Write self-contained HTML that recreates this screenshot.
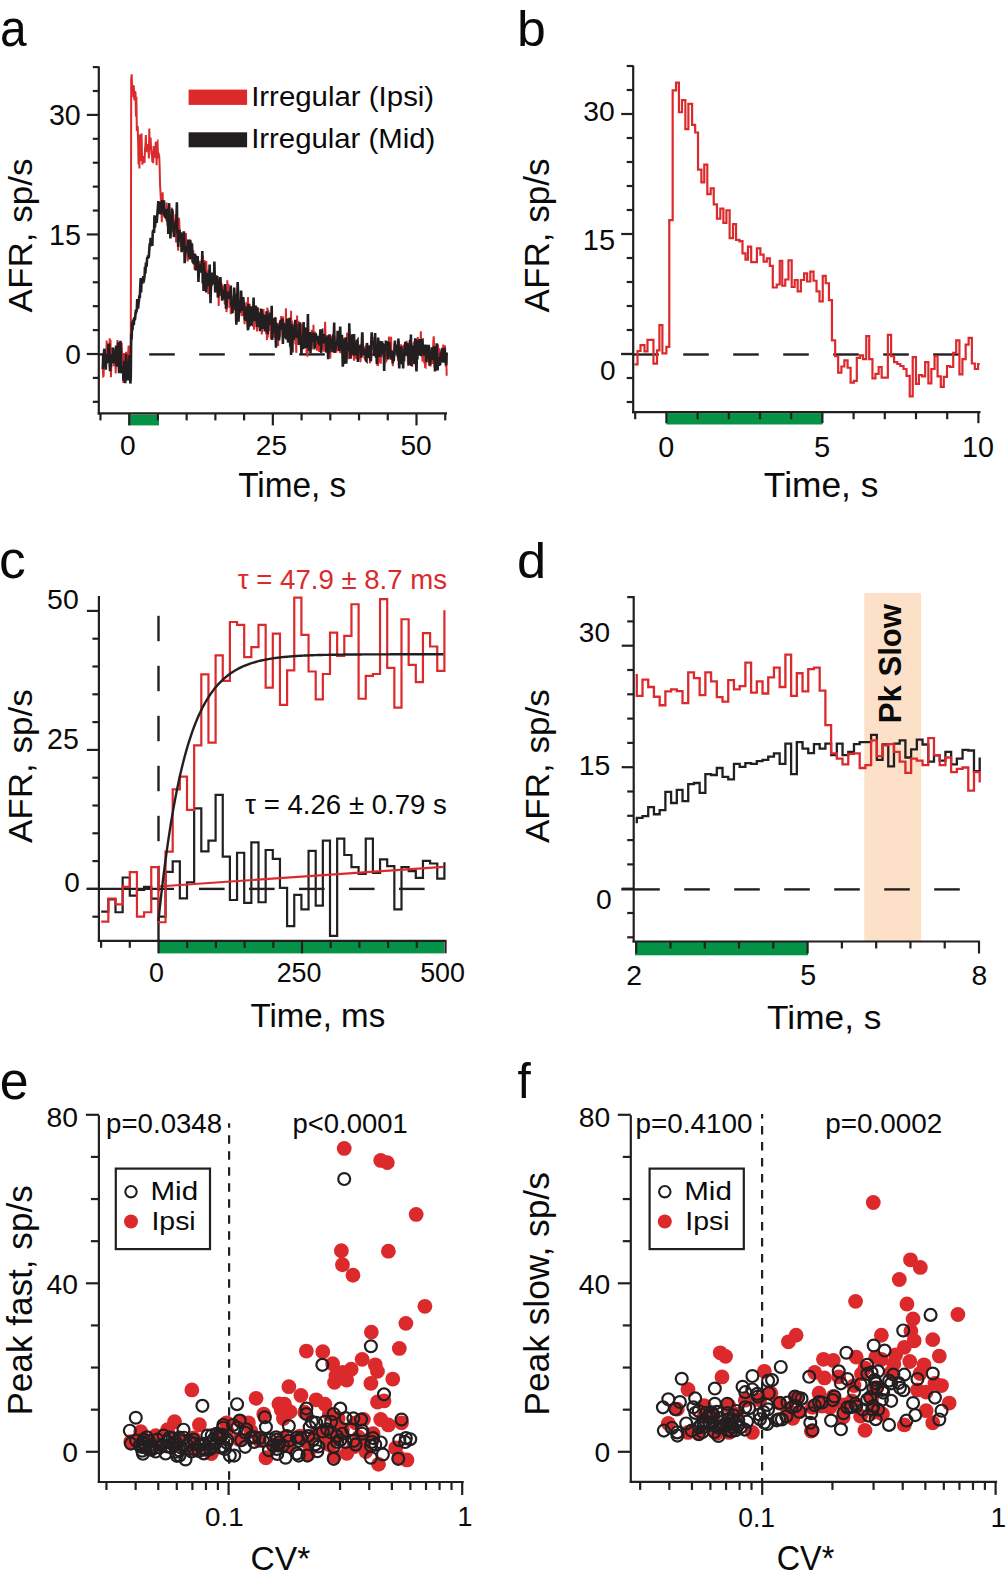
<!DOCTYPE html>
<html><head><meta charset="utf-8"><style>
html,body{margin:0;padding:0;background:#fff;width:1006px;height:1578px;overflow:hidden}
svg{display:block}
text{font-family:"Liberation Sans", sans-serif;}
</style></head><body>
<svg width="1006" height="1578" viewBox="0 0 1006 1578">
<line x1="99.20" y1="354.40" x2="124.80" y2="354.40" stroke="#231f20" stroke-width="2.4" />
<line x1="149.20" y1="354.40" x2="174.80" y2="354.40" stroke="#231f20" stroke-width="2.4" />
<line x1="199.20" y1="354.40" x2="224.80" y2="354.40" stroke="#231f20" stroke-width="2.4" />
<line x1="249.20" y1="354.40" x2="274.80" y2="354.40" stroke="#231f20" stroke-width="2.4" />
<line x1="299.20" y1="354.40" x2="324.80" y2="354.40" stroke="#231f20" stroke-width="2.4" />
<line x1="349.20" y1="354.40" x2="374.80" y2="354.40" stroke="#231f20" stroke-width="2.4" />
<line x1="399.20" y1="354.40" x2="424.80" y2="354.40" stroke="#231f20" stroke-width="2.4" />
<rect x="129.20" y="414.60" width="29.80" height="10.80" fill="#049346" />
<path d="M102.77,367.14 L103.20,376.27 L103.63,375.97 L104.06,356.37 L104.49,362.00 L104.92,360.26 L105.35,356.83 L105.79,360.81 L106.22,357.53 L106.65,340.53 L107.08,362.66 L107.51,362.15 L107.94,360.78 L108.37,357.80 L108.80,352.61 L109.23,359.77 L109.66,338.26 L110.09,360.91 L110.53,339.78 L110.96,377.33 L111.39,362.14 L111.82,354.31 L112.25,355.67 L112.68,347.71 L113.11,357.73 L113.54,352.14 L113.97,366.28 L114.40,349.62 L114.83,360.61 L115.27,358.25 L115.70,373.37 L116.13,356.40 L116.56,350.18 L116.99,357.84 L117.42,339.97 L117.85,345.35 L118.28,366.12 L118.71,351.80 L119.14,360.11 L119.58,349.67 L120.01,373.09 L120.44,353.59 L120.87,354.04 L121.30,369.42 L121.73,342.70 L122.16,359.92 L122.59,353.44 L123.02,355.85 L123.45,383.00 L123.88,355.85 L124.32,358.81 L124.75,354.71 L125.18,366.29 L125.61,355.69 L126.04,351.90 L126.47,356.09 L126.90,361.57 L127.33,377.35 L127.76,368.24 L128.19,352.70 L128.63,345.58 L129.06,349.57 L129.49,358.05 L129.92,359.30 L130.35,357.03 L130.78,357.12 L131.21,79.67 L131.64,74.32 L132.07,85.69 L132.50,85.95 L132.93,85.95 L133.37,97.17 L133.80,85.64 L134.23,98.73 L134.66,100.11 L135.09,91.30 L135.52,93.18 L135.95,116.44 L136.38,96.65 L136.81,128.72 L137.24,128.19 L137.68,125.91 L138.11,141.34 L138.54,164.20 L138.97,138.27 L139.40,168.61 L139.83,134.46 L140.26,161.06 L140.69,153.70 L141.12,151.36 L141.55,133.57 L141.98,154.32 L142.42,164.79 L142.85,156.04 L143.28,162.87 L143.71,158.95 L144.14,162.03 L144.57,162.02 L145.00,148.95 L145.43,144.74 L145.86,135.09 L146.29,152.10 L146.73,148.70 L147.16,148.19 L147.59,144.22 L148.02,147.45 L148.45,147.86 L148.88,158.56 L149.31,128.50 L149.74,149.93 L150.17,139.90 L150.60,137.53 L151.03,148.05 L151.47,152.88 L151.90,152.51 L152.33,162.19 L152.76,159.40 L153.19,163.15 L153.62,145.93 L154.05,157.24 L154.48,156.91 L154.91,155.81 L155.34,150.24 L155.78,141.90 L156.21,153.60 L156.64,165.22 L157.07,142.52 L157.50,141.79 L157.93,151.64 L158.36,155.30 L158.79,154.34 L159.22,155.84 L159.65,167.06 L160.08,185.57 L160.52,192.71 L160.95,202.01 L161.38,206.87 L161.81,222.11 L162.24,208.21 L162.67,192.35 L163.10,214.22 L163.53,204.81 L163.96,207.65 L164.39,214.02 L164.83,217.95 L165.26,214.04 L165.69,217.80 L166.12,213.20 L166.55,202.65 L166.98,211.60 L167.41,225.41 L167.84,213.64 L168.27,210.81 L168.70,223.60 L169.13,216.31 L169.57,213.67 L170.00,230.74 L170.43,218.05 L170.86,215.46 L171.29,226.22 L171.72,207.51 L172.15,216.99 L172.58,232.59 L173.01,210.82 L173.44,228.28 L173.88,225.17 L174.31,227.28 L174.74,219.04 L175.17,231.86 L175.60,214.35 L176.03,242.41 L176.46,229.10 L176.89,236.00 L177.32,235.28 L177.75,238.44 L178.18,250.62 L178.62,239.37 L179.05,217.68 L179.48,227.17 L179.91,234.63 L180.34,239.65 L180.77,233.49 L181.20,238.08 L181.63,246.33 L182.06,243.87 L182.49,238.43 L182.93,247.87 L183.36,245.90 L183.79,239.10 L184.22,234.61 L184.65,245.58 L185.08,249.52 L185.51,235.69 L185.94,232.98 L186.37,248.06 L186.80,240.22 L187.23,254.14 L187.67,261.44 L188.10,243.86 L188.53,248.50 L188.96,254.93 L189.39,258.81 L189.82,239.38 L190.25,250.91 L190.68,252.43 L191.11,258.39 L191.54,251.16 L191.98,257.98 L192.41,260.63 L192.84,262.61 L193.27,250.19 L193.70,263.37 L194.13,255.90 L194.56,270.03 L194.99,268.47 L195.42,268.77 L195.85,267.24 L196.28,270.20 L196.72,261.15 L197.15,260.69 L197.58,269.67 L198.01,264.34 L198.44,261.38 L198.87,271.25 L199.30,264.95 L199.73,262.25 L200.16,261.02 L200.59,270.70 L201.02,261.21 L201.46,262.65 L201.89,259.47 L202.32,265.75 L202.75,255.62 L203.18,282.20 L203.61,267.57 L204.04,263.27 L204.47,260.05 L204.90,277.64 L205.33,271.41 L205.77,270.35 L206.20,261.07 L206.63,269.26 L207.06,273.85 L207.49,288.94 L207.92,270.89 L208.35,294.24 L208.78,284.22 L209.21,277.80 L209.64,272.71 L210.07,277.26 L210.51,286.66 L210.94,280.48 L211.37,278.24 L211.80,286.27 L212.23,282.05 L212.66,278.73 L213.09,280.11 L213.52,273.78 L213.95,280.24 L214.38,278.01 L214.82,274.67 L215.25,278.20 L215.68,280.90 L216.11,278.45 L216.54,290.81 L216.97,290.43 L217.40,285.17 L217.83,285.82 L218.26,278.96 L218.69,305.87 L219.12,279.47 L219.56,293.72 L219.99,284.04 L220.42,281.73 L220.85,296.24 L221.28,287.56 L221.71,286.97 L222.14,286.13 L222.57,288.31 L223.00,294.19 L223.43,285.55 L223.87,289.76 L224.30,289.40 L224.73,303.93 L225.16,301.06 L225.59,304.96 L226.02,288.94 L226.45,312.05 L226.88,308.06 L227.31,280.34 L227.74,292.95 L228.17,294.24 L228.61,284.14 L229.04,294.07 L229.47,308.04 L229.90,297.29 L230.33,292.38 L230.76,314.24 L231.19,302.76 L231.62,295.76 L232.05,298.38 L232.48,307.82 L232.92,303.94 L233.35,301.55 L233.78,309.73 L234.21,306.87 L234.64,296.66 L235.07,306.68 L235.50,298.65 L235.93,322.13 L236.36,307.44 L236.79,305.49 L237.22,311.62 L237.66,296.46 L238.09,302.00 L238.52,302.62 L238.95,301.25 L239.38,299.68 L239.81,308.53 L240.24,312.06 L240.67,301.07 L241.10,308.22 L241.53,316.17 L241.97,304.36 L242.40,315.84 L242.83,306.48 L243.26,300.24 L243.69,311.55 L244.12,315.66 L244.55,324.10 L244.98,319.66 L245.41,308.62 L245.84,310.57 L246.27,302.42 L246.71,308.54 L247.14,303.00 L247.57,308.94 L248.00,297.09 L248.43,328.86 L248.86,323.40 L249.29,315.44 L249.72,303.76 L250.15,321.75 L250.58,309.54 L251.02,309.01 L251.45,320.21 L251.88,320.62 L252.31,316.79 L252.74,317.33 L253.17,326.88 L253.60,319.46 L254.03,329.71 L254.46,326.67 L254.89,305.70 L255.32,319.47 L255.76,317.63 L256.19,315.82 L256.62,313.13 L257.05,331.43 L257.48,323.13 L257.91,314.58 L258.34,327.30 L258.77,325.60 L259.20,321.71 L259.63,311.97 L260.07,330.81 L260.50,308.36 L260.93,324.82 L261.36,314.97 L261.79,334.40 L262.22,328.19 L262.65,315.17 L263.08,324.04 L263.51,309.07 L263.94,321.62 L264.37,319.93 L264.81,325.30 L265.24,316.19 L265.67,328.13 L266.10,334.18 L266.53,318.19 L266.96,340.14 L267.39,307.42 L267.82,337.59 L268.25,309.86 L268.68,330.91 L269.12,319.85 L269.55,320.23 L269.98,314.07 L270.41,315.09 L270.84,339.27 L271.27,336.61 L271.70,333.97 L272.13,339.87 L272.56,322.38 L272.99,322.69 L273.42,318.55 L273.86,337.83 L274.29,321.25 L274.72,327.90 L275.15,318.31 L275.58,317.09 L276.01,325.69 L276.44,327.58 L276.87,340.02 L277.30,322.86 L277.73,326.01 L278.17,345.90 L278.60,322.73 L279.03,327.49 L279.46,338.41 L279.89,320.69 L280.32,336.40 L280.75,325.59 L281.18,316.13 L281.61,325.71 L282.04,323.43 L282.47,330.03 L282.91,316.41 L283.34,325.08 L283.77,330.32 L284.20,337.59 L284.63,329.22 L285.06,327.91 L285.49,330.50 L285.92,308.17 L286.35,327.21 L286.78,327.25 L287.22,334.45 L287.65,331.17 L288.08,322.12 L288.51,326.87 L288.94,338.45 L289.37,333.38 L289.80,329.69 L290.23,323.15 L290.66,348.67 L291.09,310.71 L291.52,350.08 L291.96,320.90 L292.39,322.23 L292.82,333.12 L293.25,329.90 L293.68,331.91 L294.11,337.07 L294.54,325.41 L294.97,329.97 L295.40,344.26 L295.83,332.41 L296.26,352.85 L296.70,336.86 L297.13,315.61 L297.56,335.31 L297.99,326.52 L298.42,320.85 L298.85,324.57 L299.28,326.81 L299.71,337.24 L300.14,333.16 L300.57,341.84 L301.01,328.60 L301.44,346.42 L301.87,325.04 L302.30,325.53 L302.73,340.59 L303.16,334.72 L303.59,335.66 L304.02,331.69 L304.45,346.16 L304.88,333.38 L305.31,334.94 L305.75,335.60 L306.18,328.42 L306.61,353.02 L307.04,329.93 L307.47,356.70 L307.90,345.40 L308.33,332.99 L308.76,339.29 L309.19,333.69 L309.62,339.63 L310.06,341.48 L310.49,343.40 L310.92,332.56 L311.35,338.22 L311.78,329.85 L312.21,337.52 L312.64,335.05 L313.07,340.39 L313.50,324.73 L313.93,345.81 L314.36,349.71 L314.80,331.93 L315.23,333.08 L315.66,346.03 L316.09,342.99 L316.52,337.88 L316.95,350.78 L317.38,340.02 L317.81,349.01 L318.24,342.11 L318.67,342.70 L319.11,351.91 L319.54,344.53 L319.97,342.08 L320.40,335.93 L320.83,339.29 L321.26,338.12 L321.69,349.59 L322.12,336.24 L322.55,344.93 L322.98,347.98 L323.41,341.17 L323.85,351.77 L324.28,347.21 L324.71,337.05 L325.14,321.79 L325.57,338.63 L326.00,339.47 L326.43,336.99 L326.86,346.58 L327.29,335.02 L327.72,350.97 L328.16,350.85 L328.59,337.52 L329.02,342.43 L329.45,349.18 L329.88,350.45 L330.31,358.65 L330.74,339.34 L331.17,335.42 L331.60,347.56 L332.03,352.15 L332.46,344.67 L332.90,351.15 L333.33,336.58 L333.76,352.97 L334.19,336.99 L334.62,336.05 L335.05,350.47 L335.48,340.06 L335.91,342.49 L336.34,352.72 L336.77,346.58 L337.21,339.46 L337.64,349.70 L338.07,350.66 L338.50,339.42 L338.93,342.85 L339.36,347.61 L339.79,338.66 L340.22,353.26 L340.65,344.28 L341.08,349.28 L341.51,346.07 L341.95,346.17 L342.38,342.85 L342.81,352.55 L343.24,343.04 L343.67,347.35 L344.10,337.68 L344.53,349.41 L344.96,355.38 L345.39,343.79 L345.82,349.50 L346.26,339.53 L346.69,350.56 L347.12,332.71 L347.55,336.85 L347.98,357.74 L348.41,342.21 L348.84,359.21 L349.27,329.14 L349.70,342.86 L350.13,341.83 L350.56,358.04 L351.00,335.75 L351.43,340.12 L351.86,339.11 L352.29,342.70 L352.72,337.21 L353.15,337.57 L353.58,354.66 L354.01,360.68 L354.44,339.96 L354.87,350.53 L355.31,343.31 L355.74,348.19 L356.17,359.25 L356.60,348.04 L357.03,350.24 L357.46,357.61 L357.89,340.23 L358.32,354.72 L358.75,357.83 L359.18,359.25 L359.61,352.81 L360.05,348.13 L360.48,362.12 L360.91,350.39 L361.34,350.42 L361.77,344.54 L362.20,351.07 L362.63,332.81 L363.06,355.26 L363.49,353.37 L363.92,347.49 L364.36,357.92 L364.79,358.68 L365.22,345.98 L365.65,356.94 L366.08,356.99 L366.51,344.64 L366.94,346.60 L367.37,353.08 L367.80,348.66 L368.23,353.16 L368.66,346.92 L369.10,358.31 L369.53,349.62 L369.96,363.13 L370.39,360.59 L370.82,358.24 L371.25,358.91 L371.68,347.41 L372.11,350.04 L372.54,346.64 L372.97,345.04 L373.40,346.68 L373.84,349.68 L374.27,337.06 L374.70,346.72 L375.13,355.13 L375.56,355.49 L375.99,344.84 L376.42,349.10 L376.85,346.27 L377.28,365.81 L377.71,363.25 L378.15,363.90 L378.58,358.75 L379.01,360.77 L379.44,359.37 L379.87,348.63 L380.30,344.95 L380.73,363.65 L381.16,341.00 L381.59,357.43 L382.02,344.34 L382.45,347.24 L382.89,349.87 L383.32,343.78 L383.75,350.35 L384.18,357.46 L384.61,357.42 L385.04,352.60 L385.47,350.29 L385.90,347.04 L386.33,360.69 L386.76,359.86 L387.20,356.84 L387.63,352.46 L388.06,347.31 L388.49,356.79 L388.92,336.59 L389.35,346.97 L389.78,339.33 L390.21,353.60 L390.64,360.05 L391.07,336.71 L391.50,358.72 L391.94,355.54 L392.37,352.12 L392.80,366.16 L393.23,353.61 L393.66,352.60 L394.09,350.18 L394.52,342.90 L394.95,346.52 L395.38,345.05 L395.81,348.17 L396.25,354.96 L396.68,347.71 L397.11,353.33 L397.54,347.36 L397.97,360.65 L398.40,342.57 L398.83,341.02 L399.26,347.33 L399.69,350.17 L400.12,345.96 L400.55,361.28 L400.99,344.25 L401.42,361.41 L401.85,348.81 L402.28,358.17 L402.71,350.57 L403.14,346.16 L403.57,345.13 L404.00,359.41 L404.43,344.57 L404.86,355.14 L405.30,343.88 L405.73,354.53 L406.16,347.06 L406.59,340.89 L407.02,350.90 L407.45,346.51 L407.88,362.31 L408.31,365.76 L408.74,364.06 L409.17,344.50 L409.60,342.43 L410.04,341.87 L410.47,342.46 L410.90,360.12 L411.33,342.67 L411.76,353.28 L412.19,366.71 L412.62,351.48 L413.05,345.64 L413.48,356.83 L413.91,341.71 L414.35,348.94 L414.78,351.46 L415.21,350.00 L415.64,358.71 L416.07,353.43 L416.50,353.91 L416.93,360.57 L417.36,343.79 L417.79,336.95 L418.22,350.84 L418.65,343.52 L419.09,351.98 L419.52,354.70 L419.95,344.63 L420.38,352.87 L420.81,331.24 L421.24,347.94 L421.67,352.20 L422.10,354.24 L422.53,361.50 L422.96,360.18 L423.40,348.11 L423.83,351.86 L424.26,363.51 L424.69,353.52 L425.12,367.25 L425.55,367.49 L425.98,359.68 L426.41,346.77 L426.84,351.87 L427.27,344.89 L427.70,351.80 L428.14,346.16 L428.57,356.77 L429.00,366.03 L429.43,358.29 L429.86,349.70 L430.29,366.58 L430.72,361.08 L431.15,353.43 L431.58,357.40 L432.01,354.13 L432.45,348.77 L432.88,363.94 L433.31,341.15 L433.74,336.29 L434.17,346.87 L434.60,367.55 L435.03,353.16 L435.46,363.84 L435.89,352.00 L436.32,352.34 L436.75,346.85 L437.19,346.82 L437.62,356.85 L438.05,344.51 L438.48,362.20 L438.91,348.44 L439.34,352.63 L439.77,358.28 L440.20,351.20 L440.63,351.13 L441.06,355.54 L441.50,354.76 L441.93,353.55 L442.36,347.67 L442.79,356.70 L443.22,344.54 L443.65,356.13 L444.08,348.19 L444.51,360.49 L444.94,345.41 L445.37,354.54 L445.80,366.60 L446.24,353.54 L446.67,375.81" fill="none" stroke="#dc2a2c" stroke-width="2.0" stroke-linejoin="miter" />
<path d="M102.77,368.97 L103.20,354.24 L103.63,360.72 L104.06,350.80 L104.49,348.77 L104.92,356.41 L105.35,365.46 L105.79,369.60 L106.22,354.03 L106.65,362.85 L107.08,359.12 L107.51,358.31 L107.94,362.65 L108.37,343.44 L108.80,358.18 L109.23,343.50 L109.66,364.55 L110.09,371.21 L110.53,354.26 L110.96,367.15 L111.39,354.31 L111.82,362.67 L112.25,357.80 L112.68,363.02 L113.11,347.58 L113.54,363.18 L113.97,355.77 L114.40,363.25 L114.83,360.35 L115.27,357.89 L115.70,359.60 L116.13,345.64 L116.56,366.57 L116.99,357.12 L117.42,351.23 L117.85,355.17 L118.28,342.39 L118.71,363.75 L119.14,373.19 L119.58,349.27 L120.01,354.96 L120.44,340.84 L120.87,353.47 L121.30,373.26 L121.73,369.28 L122.16,366.20 L122.59,372.77 L123.02,366.75 L123.45,380.79 L123.88,369.41 L124.32,360.93 L124.75,375.61 L125.18,383.13 L125.61,378.76 L126.04,354.07 L126.47,361.64 L126.90,368.51 L127.33,372.98 L127.76,380.32 L128.19,364.07 L128.63,361.64 L129.06,373.17 L129.49,355.15 L129.92,362.07 L130.35,383.59 L130.78,377.29 L131.21,334.01 L131.64,339.39 L132.07,322.10 L132.50,330.10 L132.93,321.20 L133.37,320.44 L133.80,325.20 L134.23,317.24 L134.66,320.14 L135.09,318.86 L135.52,313.40 L135.95,309.64 L136.38,311.40 L136.81,309.97 L137.24,299.11 L137.68,302.68 L138.11,308.56 L138.54,303.45 L138.97,300.43 L139.40,295.47 L139.83,297.84 L140.26,286.35 L140.69,278.12 L141.12,292.36 L141.55,280.87 L141.98,278.50 L142.42,283.67 L142.85,279.53 L143.28,276.15 L143.71,277.61 L144.14,278.73 L144.57,275.95 L145.00,266.88 L145.43,273.39 L145.86,264.23 L146.29,264.43 L146.73,264.70 L147.16,257.44 L147.59,258.84 L148.02,255.33 L148.45,257.98 L148.88,256.30 L149.31,249.16 L149.74,243.46 L150.17,246.77 L150.60,237.81 L151.03,242.90 L151.47,241.59 L151.90,241.98 L152.33,245.85 L152.76,232.34 L153.19,229.86 L153.62,231.99 L154.05,233.03 L154.48,215.34 L154.91,227.63 L155.34,222.37 L155.78,216.15 L156.21,220.41 L156.64,223.00 L157.07,218.01 L157.50,212.20 L157.93,206.57 L158.36,201.12 L158.79,213.34 L159.22,204.98 L159.65,214.16 L160.08,205.00 L160.52,211.77 L160.95,201.74 L161.38,214.55 L161.81,206.29 L162.24,200.13 L162.67,211.45 L163.10,207.87 L163.53,209.41 L163.96,200.21 L164.39,215.45 L164.83,215.95 L165.26,210.02 L165.69,210.27 L166.12,219.02 L166.55,215.47 L166.98,221.09 L167.41,214.58 L167.84,208.87 L168.27,233.87 L168.70,208.78 L169.13,203.17 L169.57,228.32 L170.00,222.39 L170.43,238.46 L170.86,227.24 L171.29,218.48 L171.72,227.13 L172.15,208.84 L172.58,227.25 L173.01,228.32 L173.44,221.88 L173.88,237.07 L174.31,234.89 L174.74,221.84 L175.17,227.75 L175.60,227.78 L176.03,227.28 L176.46,218.02 L176.89,202.34 L177.32,233.56 L177.75,230.29 L178.18,246.83 L178.62,236.04 L179.05,240.67 L179.48,229.69 L179.91,241.44 L180.34,239.70 L180.77,232.27 L181.20,236.75 L181.63,252.32 L182.06,237.51 L182.49,248.07 L182.93,250.00 L183.36,235.34 L183.79,231.38 L184.22,237.34 L184.65,263.27 L185.08,256.55 L185.51,247.13 L185.94,247.29 L186.37,252.04 L186.80,247.46 L187.23,249.34 L187.67,252.34 L188.10,239.52 L188.53,247.22 L188.96,256.62 L189.39,245.27 L189.82,259.39 L190.25,240.17 L190.68,249.50 L191.11,242.55 L191.54,254.55 L191.98,243.67 L192.41,254.51 L192.84,262.63 L193.27,256.98 L193.70,264.14 L194.13,262.30 L194.56,253.58 L194.99,257.07 L195.42,254.63 L195.85,270.36 L196.28,262.33 L196.72,260.61 L197.15,262.26 L197.58,256.17 L198.01,264.08 L198.44,281.92 L198.87,271.69 L199.30,269.52 L199.73,263.54 L200.16,272.70 L200.59,263.90 L201.02,268.13 L201.46,264.86 L201.89,268.14 L202.32,250.92 L202.75,283.51 L203.18,275.40 L203.61,291.00 L204.04,262.48 L204.47,275.38 L204.90,273.34 L205.33,272.63 L205.77,273.29 L206.20,292.55 L206.63,279.47 L207.06,281.90 L207.49,277.18 L207.92,272.98 L208.35,286.02 L208.78,282.58 L209.21,276.73 L209.64,264.64 L210.07,280.76 L210.51,303.22 L210.94,287.27 L211.37,277.36 L211.80,272.67 L212.23,278.40 L212.66,281.31 L213.09,284.23 L213.52,282.63 L213.95,283.72 L214.38,261.52 L214.82,279.40 L215.25,292.55 L215.68,278.30 L216.11,276.87 L216.54,275.50 L216.97,282.27 L217.40,275.95 L217.83,297.59 L218.26,295.54 L218.69,290.41 L219.12,291.25 L219.56,285.68 L219.99,283.44 L220.42,276.99 L220.85,286.61 L221.28,287.71 L221.71,290.37 L222.14,300.78 L222.57,291.20 L223.00,292.49 L223.43,289.96 L223.87,295.15 L224.30,299.25 L224.73,293.11 L225.16,283.96 L225.59,293.37 L226.02,308.83 L226.45,306.45 L226.88,296.97 L227.31,297.25 L227.74,299.19 L228.17,291.63 L228.61,297.66 L229.04,297.70 L229.47,296.47 L229.90,295.10 L230.33,292.74 L230.76,285.47 L231.19,303.46 L231.62,306.35 L232.05,300.18 L232.48,313.41 L232.92,300.78 L233.35,305.62 L233.78,303.22 L234.21,287.47 L234.64,296.22 L235.07,293.93 L235.50,310.55 L235.93,300.46 L236.36,324.61 L236.79,306.49 L237.22,300.17 L237.66,282.04 L238.09,293.50 L238.52,321.75 L238.95,309.44 L239.38,306.15 L239.81,312.79 L240.24,305.79 L240.67,309.92 L241.10,290.53 L241.53,299.95 L241.97,310.85 L242.40,302.61 L242.83,302.72 L243.26,297.15 L243.69,303.76 L244.12,306.42 L244.55,315.70 L244.98,319.91 L245.41,310.31 L245.84,320.84 L246.27,306.72 L246.71,311.13 L247.14,313.73 L247.57,323.79 L248.00,330.34 L248.43,303.85 L248.86,316.12 L249.29,326.60 L249.72,319.59 L250.15,316.92 L250.58,313.55 L251.02,306.40 L251.45,325.73 L251.88,315.22 L252.31,307.85 L252.74,314.85 L253.17,314.16 L253.60,297.49 L254.03,321.04 L254.46,316.02 L254.89,312.87 L255.32,310.80 L255.76,305.61 L256.19,316.72 L256.62,320.51 L257.05,326.98 L257.48,307.21 L257.91,320.25 L258.34,321.44 L258.77,319.45 L259.20,313.55 L259.63,320.43 L260.07,331.26 L260.50,312.78 L260.93,318.27 L261.36,309.14 L261.79,311.05 L262.22,320.78 L262.65,328.97 L263.08,314.17 L263.51,322.46 L263.94,315.22 L264.37,316.65 L264.81,331.45 L265.24,318.97 L265.67,331.38 L266.10,326.56 L266.53,312.89 L266.96,311.38 L267.39,329.05 L267.82,334.17 L268.25,320.98 L268.68,317.75 L269.12,318.67 L269.55,321.26 L269.98,316.83 L270.41,312.57 L270.84,325.26 L271.27,319.75 L271.70,305.69 L272.13,339.85 L272.56,321.63 L272.99,319.70 L273.42,331.66 L273.86,331.16 L274.29,318.17 L274.72,333.53 L275.15,317.57 L275.58,335.05 L276.01,347.74 L276.44,323.43 L276.87,325.85 L277.30,328.04 L277.73,334.80 L278.17,328.72 L278.60,332.53 L279.03,340.52 L279.46,325.12 L279.89,330.12 L280.32,322.29 L280.75,320.00 L281.18,327.55 L281.61,322.71 L282.04,320.99 L282.47,318.62 L282.91,343.93 L283.34,322.79 L283.77,329.22 L284.20,328.92 L284.63,323.55 L285.06,337.98 L285.49,332.96 L285.92,325.94 L286.35,339.39 L286.78,324.89 L287.22,318.62 L287.65,333.79 L288.08,342.54 L288.51,341.65 L288.94,321.66 L289.37,333.16 L289.80,317.65 L290.23,346.56 L290.66,323.63 L291.09,354.86 L291.52,331.76 L291.96,323.90 L292.39,352.51 L292.82,327.06 L293.25,338.91 L293.68,339.96 L294.11,335.50 L294.54,329.00 L294.97,326.31 L295.40,319.87 L295.83,333.40 L296.26,324.02 L296.70,337.91 L297.13,332.78 L297.56,332.56 L297.99,331.12 L298.42,336.25 L298.85,345.01 L299.28,329.22 L299.71,322.34 L300.14,331.91 L300.57,340.50 L301.01,342.08 L301.44,354.69 L301.87,335.25 L302.30,336.87 L302.73,336.66 L303.16,349.27 L303.59,322.04 L304.02,345.18 L304.45,348.07 L304.88,327.53 L305.31,328.89 L305.75,338.02 L306.18,339.86 L306.61,348.00 L307.04,344.47 L307.47,342.05 L307.90,313.99 L308.33,339.39 L308.76,334.84 L309.19,350.98 L309.62,346.30 L310.06,331.98 L310.49,353.29 L310.92,333.46 L311.35,349.41 L311.78,336.29 L312.21,335.50 L312.64,341.50 L313.07,332.66 L313.50,341.54 L313.93,339.65 L314.36,333.81 L314.80,348.53 L315.23,339.45 L315.66,333.32 L316.09,335.67 L316.52,338.18 L316.95,340.75 L317.38,337.68 L317.81,335.89 L318.24,338.73 L318.67,344.03 L319.11,342.67 L319.54,345.21 L319.97,336.95 L320.40,329.21 L320.83,338.41 L321.26,352.84 L321.69,330.80 L322.12,330.42 L322.55,339.05 L322.98,341.32 L323.41,341.74 L323.85,341.18 L324.28,334.15 L324.71,338.62 L325.14,343.69 L325.57,341.09 L326.00,344.23 L326.43,352.68 L326.86,345.40 L327.29,336.21 L327.72,346.06 L328.16,359.18 L328.59,338.69 L329.02,353.20 L329.45,334.30 L329.88,347.58 L330.31,339.70 L330.74,344.27 L331.17,343.74 L331.60,338.32 L332.03,351.69 L332.46,339.54 L332.90,342.69 L333.33,334.27 L333.76,337.62 L334.19,322.58 L334.62,352.85 L335.05,345.11 L335.48,350.41 L335.91,341.70 L336.34,346.08 L336.77,342.33 L337.21,346.14 L337.64,330.68 L338.07,336.72 L338.50,337.82 L338.93,344.50 L339.36,351.22 L339.79,337.14 L340.22,326.56 L340.65,348.91 L341.08,344.69 L341.51,348.66 L341.95,334.89 L342.38,351.57 L342.81,366.82 L343.24,350.71 L343.67,364.28 L344.10,354.44 L344.53,339.30 L344.96,342.02 L345.39,344.14 L345.82,337.30 L346.26,363.58 L346.69,354.95 L347.12,349.15 L347.55,346.65 L347.98,345.74 L348.41,342.67 L348.84,351.07 L349.27,323.39 L349.70,343.23 L350.13,339.00 L350.56,358.82 L351.00,340.10 L351.43,338.19 L351.86,347.05 L352.29,334.38 L352.72,336.86 L353.15,352.95 L353.58,353.44 L354.01,334.11 L354.44,348.86 L354.87,344.22 L355.31,355.07 L355.74,343.20 L356.17,355.51 L356.60,347.72 L357.03,340.93 L357.46,340.36 L357.89,361.87 L358.32,351.34 L358.75,349.10 L359.18,350.79 L359.61,346.68 L360.05,348.56 L360.48,344.56 L360.91,346.97 L361.34,357.64 L361.77,344.26 L362.20,332.27 L362.63,347.33 L363.06,353.36 L363.49,352.32 L363.92,348.84 L364.36,354.83 L364.79,349.19 L365.22,355.40 L365.65,349.63 L366.08,360.51 L366.51,360.97 L366.94,343.03 L367.37,346.55 L367.80,347.82 L368.23,348.81 L368.66,357.94 L369.10,346.21 L369.53,351.22 L369.96,345.41 L370.39,360.80 L370.82,359.53 L371.25,342.69 L371.68,332.37 L372.11,344.07 L372.54,342.74 L372.97,343.27 L373.40,344.82 L373.84,341.01 L374.27,354.09 L374.70,353.82 L375.13,333.02 L375.56,352.24 L375.99,357.61 L376.42,351.78 L376.85,363.95 L377.28,356.02 L377.71,356.10 L378.15,337.49 L378.58,348.07 L379.01,357.02 L379.44,340.68 L379.87,355.62 L380.30,353.54 L380.73,356.56 L381.16,346.98 L381.59,346.41 L382.02,341.29 L382.45,353.81 L382.89,351.06 L383.32,345.64 L383.75,350.19 L384.18,370.98 L384.61,347.25 L385.04,348.00 L385.47,350.51 L385.90,340.52 L386.33,350.75 L386.76,348.19 L387.20,341.25 L387.63,356.27 L388.06,359.40 L388.49,348.70 L388.92,355.67 L389.35,342.07 L389.78,349.13 L390.21,354.61 L390.64,352.62 L391.07,358.68 L391.50,350.34 L391.94,353.56 L392.37,355.16 L392.80,363.55 L393.23,353.37 L393.66,361.22 L394.09,356.35 L394.52,353.51 L394.95,340.63 L395.38,351.69 L395.81,346.03 L396.25,345.73 L396.68,345.73 L397.11,348.73 L397.54,355.29 L397.97,356.05 L398.40,338.63 L398.83,358.26 L399.26,368.51 L399.69,346.70 L400.12,353.81 L400.55,348.07 L400.99,358.11 L401.42,346.30 L401.85,364.16 L402.28,358.92 L402.71,356.53 L403.14,368.54 L403.57,355.37 L404.00,361.56 L404.43,348.57 L404.86,352.96 L405.30,341.86 L405.73,350.19 L406.16,342.57 L406.59,355.47 L407.02,343.84 L407.45,348.94 L407.88,356.40 L408.31,343.24 L408.74,364.86 L409.17,348.84 L409.60,358.01 L410.04,339.75 L410.47,363.17 L410.90,334.54 L411.33,365.90 L411.76,348.78 L412.19,353.44 L412.62,359.77 L413.05,349.29 L413.48,345.59 L413.91,353.73 L414.35,364.02 L414.78,359.99 L415.21,338.35 L415.64,356.83 L416.07,364.51 L416.50,371.49 L416.93,352.25 L417.36,359.65 L417.79,343.37 L418.22,344.16 L418.65,355.13 L419.09,347.94 L419.52,338.98 L419.95,352.04 L420.38,349.56 L420.81,345.14 L421.24,356.18 L421.67,350.11 L422.10,340.11 L422.53,339.91 L422.96,352.58 L423.40,350.68 L423.83,349.17 L424.26,355.79 L424.69,346.87 L425.12,344.45 L425.55,355.78 L425.98,344.98 L426.41,362.20 L426.84,354.57 L427.27,354.71 L427.70,351.65 L428.14,354.04 L428.57,344.88 L429.00,347.04 L429.43,360.41 L429.86,359.97 L430.29,365.21 L430.72,352.54 L431.15,353.67 L431.58,359.54 L432.01,347.28 L432.45,353.63 L432.88,360.10 L433.31,357.12 L433.74,349.36 L434.17,346.26 L434.60,358.30 L435.03,371.42 L435.46,363.37 L435.89,349.83 L436.32,364.85 L436.75,343.22 L437.19,360.04 L437.62,370.48 L438.05,358.11 L438.48,364.31 L438.91,357.28 L439.34,365.87 L439.77,357.50 L440.20,364.88 L440.63,353.46 L441.06,353.25 L441.50,361.81 L441.93,348.33 L442.36,350.39 L442.79,352.00 L443.22,362.58 L443.65,356.13 L444.08,354.03 L444.51,347.81 L444.94,355.42 L445.37,359.73 L445.80,361.66 L446.24,365.31 L446.67,352.34" fill="none" stroke="#231f20" stroke-width="2.6" stroke-linejoin="miter" />
<line x1="98.80" y1="66.60" x2="98.80" y2="414.50" stroke="#231f20" stroke-width="2.2" />
<line x1="97.70" y1="413.40" x2="447.00" y2="413.40" stroke="#231f20" stroke-width="2.2" />
<line x1="92.80" y1="401.82" x2="98.80" y2="401.82" stroke="#231f20" stroke-width="2.2" />
<line x1="92.80" y1="377.91" x2="98.80" y2="377.91" stroke="#231f20" stroke-width="2.2" />
<line x1="86.80" y1="354.00" x2="98.80" y2="354.00" stroke="#231f20" stroke-width="2.2" />
<line x1="92.80" y1="330.09" x2="98.80" y2="330.09" stroke="#231f20" stroke-width="2.2" />
<line x1="92.80" y1="306.18" x2="98.80" y2="306.18" stroke="#231f20" stroke-width="2.2" />
<line x1="92.80" y1="282.27" x2="98.80" y2="282.27" stroke="#231f20" stroke-width="2.2" />
<line x1="92.80" y1="258.36" x2="98.80" y2="258.36" stroke="#231f20" stroke-width="2.2" />
<line x1="86.80" y1="234.45" x2="98.80" y2="234.45" stroke="#231f20" stroke-width="2.2" />
<line x1="92.80" y1="210.54" x2="98.80" y2="210.54" stroke="#231f20" stroke-width="2.2" />
<line x1="92.80" y1="186.63" x2="98.80" y2="186.63" stroke="#231f20" stroke-width="2.2" />
<line x1="92.80" y1="162.72" x2="98.80" y2="162.72" stroke="#231f20" stroke-width="2.2" />
<line x1="92.80" y1="138.81" x2="98.80" y2="138.81" stroke="#231f20" stroke-width="2.2" />
<line x1="86.80" y1="114.90" x2="98.80" y2="114.90" stroke="#231f20" stroke-width="2.2" />
<line x1="92.80" y1="90.99" x2="98.80" y2="90.99" stroke="#231f20" stroke-width="2.2" />
<line x1="92.80" y1="67.08" x2="98.80" y2="67.08" stroke="#231f20" stroke-width="2.2" />
<line x1="100.47" y1="413.40" x2="100.47" y2="420.40" stroke="#231f20" stroke-width="2.2" />
<line x1="129.20" y1="413.40" x2="129.20" y2="425.40" stroke="#231f20" stroke-width="2.2" />
<line x1="157.93" y1="413.40" x2="157.93" y2="420.40" stroke="#231f20" stroke-width="2.2" />
<line x1="186.66" y1="413.40" x2="186.66" y2="420.40" stroke="#231f20" stroke-width="2.2" />
<line x1="215.39" y1="413.40" x2="215.39" y2="420.40" stroke="#231f20" stroke-width="2.2" />
<line x1="244.12" y1="413.40" x2="244.12" y2="420.40" stroke="#231f20" stroke-width="2.2" />
<line x1="272.85" y1="413.40" x2="272.85" y2="425.40" stroke="#231f20" stroke-width="2.2" />
<line x1="301.58" y1="413.40" x2="301.58" y2="420.40" stroke="#231f20" stroke-width="2.2" />
<line x1="330.31" y1="413.40" x2="330.31" y2="420.40" stroke="#231f20" stroke-width="2.2" />
<line x1="359.04" y1="413.40" x2="359.04" y2="420.40" stroke="#231f20" stroke-width="2.2" />
<line x1="387.77" y1="413.40" x2="387.77" y2="420.40" stroke="#231f20" stroke-width="2.2" />
<line x1="416.50" y1="413.40" x2="416.50" y2="425.40" stroke="#231f20" stroke-width="2.2" />
<line x1="445.23" y1="413.40" x2="445.23" y2="420.40" stroke="#231f20" stroke-width="2.2" />
<text x="48.94" y="124.80" font-size="28.57" font-weight="normal" fill="#0a0a0a" textLength="31.78" lengthAdjust="spacingAndGlyphs">30</text>
<text x="49.10" y="244.80" font-size="28.70" font-weight="normal" fill="#0a0a0a" textLength="31.92" lengthAdjust="spacingAndGlyphs">15</text>
<text x="65.17" y="364.00" font-size="28.14" font-weight="normal" fill="#0a0a0a" textLength="15.65" lengthAdjust="spacingAndGlyphs">0</text>
<text x="120.12" y="455.30" font-size="28.14" font-weight="normal" fill="#0a0a0a" textLength="15.65" lengthAdjust="spacingAndGlyphs">0</text>
<text x="255.74" y="455.30" font-size="28.14" font-weight="normal" fill="#0a0a0a" textLength="31.30" lengthAdjust="spacingAndGlyphs">25</text>
<text x="400.44" y="455.30" font-size="28.14" font-weight="normal" fill="#0a0a0a" textLength="31.30" lengthAdjust="spacingAndGlyphs">50</text>
<text x="238.13" y="497.10" font-size="34.79" font-weight="normal" fill="#0a0a0a" textLength="108.09" lengthAdjust="spacingAndGlyphs">Time, s</text>
<text transform="translate(31.70,312.40) rotate(-90)" x="-0.00" y="0" font-size="33.84" font-weight="normal" fill="#0a0a0a" textLength="153.84" lengthAdjust="spacingAndGlyphs">AFR, sp/s</text>
<text x="-0.12" y="45.60" font-size="51.30" font-weight="normal" fill="#0a0a0a" textLength="26.64" lengthAdjust="spacingAndGlyphs">a</text>
<rect x="188.60" y="89.60" width="58.50" height="15.30" fill="#dc2a2c" />
<rect x="188.60" y="132.30" width="58.50" height="15.00" fill="#231f20" />
<text x="251.15" y="106.20" font-size="27.53" font-weight="normal" fill="#0a0a0a" textLength="183.02" lengthAdjust="spacingAndGlyphs">Irregular (Ipsi)</text>
<text x="251.16" y="148.40" font-size="27.26" font-weight="normal" fill="#0a0a0a" textLength="184.17" lengthAdjust="spacingAndGlyphs">Irregular (Mid)</text>
<line x1="633.20" y1="354.50" x2="658.80" y2="354.50" stroke="#231f20" stroke-width="2.4" />
<line x1="683.20" y1="354.50" x2="708.80" y2="354.50" stroke="#231f20" stroke-width="2.4" />
<line x1="733.20" y1="354.50" x2="758.80" y2="354.50" stroke="#231f20" stroke-width="2.4" />
<line x1="783.20" y1="354.50" x2="808.80" y2="354.50" stroke="#231f20" stroke-width="2.4" />
<line x1="833.20" y1="354.50" x2="858.80" y2="354.50" stroke="#231f20" stroke-width="2.4" />
<line x1="883.20" y1="354.50" x2="908.80" y2="354.50" stroke="#231f20" stroke-width="2.4" />
<line x1="933.20" y1="354.50" x2="958.80" y2="354.50" stroke="#231f20" stroke-width="2.4" />
<line x1="621.20" y1="354.00" x2="633.20" y2="354.00" stroke="#231f20" stroke-width="2.2" />
<rect x="666.40" y="413.20" width="156.00" height="11.30" fill="#049346" />
<path d="M634.55,364.31 L637.53,364.31 L637.53,350.99 L640.52,350.99 L640.52,345.03 L644.49,345.03 L644.49,351.39 L647.48,351.39 L647.48,339.86 L653.44,339.86 L653.44,363.72 L657.02,363.72 L657.02,350.40 L659.40,350.40 L659.40,325.15 L662.39,325.15 L662.39,353.38 L666.36,353.38 L666.36,346.82 L669.29,346.82 L669.29,220.05 L672.67,220.05 L672.67,90.28 L676.05,90.28 L676.05,82.67 L678.93,82.67 L678.93,112.24 L681.97,112.24 L681.97,100.08 L685.35,100.08 L685.35,129.14 L688.39,129.14 L688.39,103.80 L692.11,103.80 L692.11,124.92 L695.15,124.92 L695.15,132.52 L698.02,132.52 L698.02,169.70 L701.40,169.70 L701.40,182.37 L704.27,182.37 L704.27,164.63 L707.31,164.63 L707.31,194.20 L710.69,194.20 L710.69,188.28 L713.73,188.28 L713.73,204.34 L716.94,204.34 L716.94,218.70 L720.32,218.70 L720.32,208.56 L723.37,208.56 L723.37,222.92 L726.41,222.92 L726.41,210.25 L729.62,210.25 L729.62,238.13 L733.00,238.13 L733.00,224.11 L736.04,224.11 L736.04,239.82 L739.42,239.82 L739.42,241.51 L740.00,241.51 L740.00,241.00 L742.49,241.00 L742.49,253.43 L745.47,253.43 L745.47,259.64 L747.95,259.64 L747.95,246.72 L751.18,246.72 L751.18,262.13 L756.90,262.13 L756.90,248.46 L760.38,248.46 L760.38,254.67 L763.61,254.67 L763.61,261.63 L766.84,261.63 L766.84,258.40 L769.82,258.40 L769.82,265.85 L772.80,265.85 L772.80,287.48 L776.78,287.48 L776.78,284.49 L779.76,284.49 L779.76,260.88 L782.25,260.88 L782.25,285.74 L785.23,285.74 L785.23,279.52 L788.46,279.52 L788.46,260.39 L791.69,260.39 L791.69,286.98 L794.67,286.98 L794.67,280.02 L797.65,280.02 L797.65,291.45 L800.88,291.45 L800.88,280.02 L804.12,280.02 L804.12,273.31 L807.10,273.31 L807.10,281.51 L810.33,281.51 L810.33,271.57 L813.56,271.57 L813.56,280.77 L816.54,280.77 L816.54,291.45 L819.52,291.45 L819.52,301.39 L822.75,301.39 L822.75,275.80 L825.74,275.80 L825.74,283.25 L828.97,283.25 L828.97,300.15 L831.95,300.15 L831.95,340.41 L835.18,340.41 L835.18,356.06 L838.16,356.06 L838.16,372.71 L841.39,372.71 L841.39,366.50 L844.37,366.50 L844.37,360.29 L847.60,360.29 L847.60,367.74 L850.59,367.74 L850.59,382.65 L853.82,382.65 L853.82,380.91 L856.80,380.91 L856.80,357.80 L860.03,357.80 L860.03,355.32 L863.01,355.32 L863.01,359.05 L866.24,359.05 L866.24,336.18 L869.22,336.18 L869.22,359.05 L872.46,359.05 L872.46,378.43 L875.44,378.43 L875.44,373.96 L878.67,373.96 L878.67,367.00 L881.65,367.00 L881.65,377.68 L887.86,377.68 L887.86,334.94 L891.09,334.94 L891.09,356.06 L894.08,356.06 L894.08,362.03 L897.31,362.03 L897.31,364.02 L900.29,364.02 L900.29,366.00 L903.52,366.00 L903.52,368.99 L906.50,368.99 L906.50,375.94 L909.73,375.94 L909.73,396.32 L912.71,396.32 L912.71,357.06 L915.94,357.06 L915.94,383.90 L918.93,383.90 L918.93,375.20 L922.16,375.20 L922.16,376.44 L925.14,376.44 L925.14,362.03 L928.37,362.03 L928.37,383.40 L931.35,383.40 L931.35,368.99 L934.58,368.99 L934.58,356.06 L937.56,356.06 L937.56,376.44 L940.80,376.44 L940.80,386.88 L943.78,386.88 L943.78,376.94 L947.01,376.94 L947.01,366.00 L949.99,366.00 L949.99,367.00 L953.22,367.00 L953.22,352.83 L956.20,352.83 L956.20,340.41 L959.43,340.41 L959.43,374.45 L962.42,374.45 L962.42,359.05 L965.65,359.05 L965.65,344.63 L968.63,344.63 L968.63,337.92 L971.86,337.92 L971.86,363.52 L974.84,363.52 L974.84,368.99 L978.07,368.99 L978.07,364.02 L979.81,364.02" fill="none" stroke="#dc2a2c" stroke-width="2.2" stroke-linejoin="miter" />
<line x1="633.20" y1="65.50" x2="633.20" y2="413.30" stroke="#231f20" stroke-width="2.2" />
<line x1="632.10" y1="412.20" x2="980.50" y2="412.20" stroke="#231f20" stroke-width="2.2" />
<line x1="626.70" y1="402.00" x2="633.20" y2="402.00" stroke="#231f20" stroke-width="2.2" />
<line x1="626.70" y1="378.00" x2="633.20" y2="378.00" stroke="#231f20" stroke-width="2.2" />
<line x1="621.20" y1="354.00" x2="633.20" y2="354.00" stroke="#231f20" stroke-width="2.2" />
<line x1="626.70" y1="330.00" x2="633.20" y2="330.00" stroke="#231f20" stroke-width="2.2" />
<line x1="626.70" y1="306.00" x2="633.20" y2="306.00" stroke="#231f20" stroke-width="2.2" />
<line x1="626.70" y1="282.00" x2="633.20" y2="282.00" stroke="#231f20" stroke-width="2.2" />
<line x1="626.70" y1="258.00" x2="633.20" y2="258.00" stroke="#231f20" stroke-width="2.2" />
<line x1="621.20" y1="234.00" x2="633.20" y2="234.00" stroke="#231f20" stroke-width="2.2" />
<line x1="626.70" y1="210.00" x2="633.20" y2="210.00" stroke="#231f20" stroke-width="2.2" />
<line x1="626.70" y1="186.00" x2="633.20" y2="186.00" stroke="#231f20" stroke-width="2.2" />
<line x1="626.70" y1="162.00" x2="633.20" y2="162.00" stroke="#231f20" stroke-width="2.2" />
<line x1="626.70" y1="138.00" x2="633.20" y2="138.00" stroke="#231f20" stroke-width="2.2" />
<line x1="621.20" y1="114.00" x2="633.20" y2="114.00" stroke="#231f20" stroke-width="2.2" />
<line x1="626.70" y1="90.00" x2="633.20" y2="90.00" stroke="#231f20" stroke-width="2.2" />
<line x1="626.70" y1="66.00" x2="633.20" y2="66.00" stroke="#231f20" stroke-width="2.2" />
<line x1="635.20" y1="412.20" x2="635.20" y2="419.20" stroke="#231f20" stroke-width="2.2" />
<line x1="666.40" y1="412.20" x2="666.40" y2="423.20" stroke="#231f20" stroke-width="2.2" />
<line x1="697.60" y1="412.20" x2="697.60" y2="419.20" stroke="#231f20" stroke-width="2.2" />
<line x1="728.80" y1="412.20" x2="728.80" y2="419.20" stroke="#231f20" stroke-width="2.2" />
<line x1="760.00" y1="412.20" x2="760.00" y2="419.20" stroke="#231f20" stroke-width="2.2" />
<line x1="791.20" y1="412.20" x2="791.20" y2="419.20" stroke="#231f20" stroke-width="2.2" />
<line x1="822.40" y1="412.20" x2="822.40" y2="423.20" stroke="#231f20" stroke-width="2.2" />
<line x1="853.60" y1="412.20" x2="853.60" y2="419.20" stroke="#231f20" stroke-width="2.2" />
<line x1="884.80" y1="412.20" x2="884.80" y2="419.20" stroke="#231f20" stroke-width="2.2" />
<line x1="916.00" y1="412.20" x2="916.00" y2="419.20" stroke="#231f20" stroke-width="2.2" />
<line x1="947.20" y1="412.20" x2="947.20" y2="419.20" stroke="#231f20" stroke-width="2.2" />
<line x1="978.40" y1="412.20" x2="978.40" y2="423.20" stroke="#231f20" stroke-width="2.2" />
<text x="583.25" y="120.80" font-size="28.29" font-weight="normal" fill="#0a0a0a" textLength="31.46" lengthAdjust="spacingAndGlyphs">30</text>
<text x="582.79" y="250.20" font-size="28.99" font-weight="normal" fill="#0a0a0a" textLength="32.24" lengthAdjust="spacingAndGlyphs">15</text>
<text x="599.94" y="379.60" font-size="28.00" font-weight="normal" fill="#0a0a0a" textLength="15.58" lengthAdjust="spacingAndGlyphs">0</text>
<text x="658.36" y="457.10" font-size="28.71" font-weight="normal" fill="#0a0a0a" textLength="15.97" lengthAdjust="spacingAndGlyphs">0</text>
<text x="814.04" y="457.10" font-size="29.13" font-weight="normal" fill="#0a0a0a" textLength="16.20" lengthAdjust="spacingAndGlyphs">5</text>
<text x="961.99" y="457.10" font-size="28.71" font-weight="normal" fill="#0a0a0a" textLength="31.94" lengthAdjust="spacingAndGlyphs">10</text>
<text x="763.89" y="496.80" font-size="34.38" font-weight="normal" fill="#0a0a0a" textLength="114.49" lengthAdjust="spacingAndGlyphs">Time, s</text>
<text transform="translate(549.20,312.40) rotate(-90)" x="-0.00" y="0" font-size="34.79" font-weight="normal" fill="#0a0a0a" textLength="153.84" lengthAdjust="spacingAndGlyphs">AFR, sp/s</text>
<text x="517.00" y="45.90" font-size="50.68" font-weight="normal" fill="#0a0a0a" textLength="28.78" lengthAdjust="spacingAndGlyphs">b</text>
<line x1="158.50" y1="615.80" x2="158.50" y2="641.20" stroke="#231f20" stroke-width="2.4" />
<line x1="158.50" y1="665.80" x2="158.50" y2="691.20" stroke="#231f20" stroke-width="2.4" />
<line x1="158.50" y1="715.80" x2="158.50" y2="741.20" stroke="#231f20" stroke-width="2.4" />
<line x1="158.50" y1="765.80" x2="158.50" y2="791.20" stroke="#231f20" stroke-width="2.4" />
<line x1="158.50" y1="815.80" x2="158.50" y2="841.20" stroke="#231f20" stroke-width="2.4" />
<line x1="158.50" y1="865.80" x2="158.50" y2="891.20" stroke="#231f20" stroke-width="2.4" />
<line x1="158.50" y1="915.80" x2="158.50" y2="941.20" stroke="#231f20" stroke-width="2.4" />
<line x1="86.50" y1="888.90" x2="174.00" y2="888.90" stroke="#231f20" stroke-width="2.2" />
<line x1="199.00" y1="888.90" x2="224.60" y2="888.90" stroke="#231f20" stroke-width="2.4" />
<line x1="249.00" y1="888.90" x2="274.60" y2="888.90" stroke="#231f20" stroke-width="2.4" />
<line x1="299.00" y1="888.90" x2="324.60" y2="888.90" stroke="#231f20" stroke-width="2.4" />
<line x1="349.00" y1="888.90" x2="374.60" y2="888.90" stroke="#231f20" stroke-width="2.4" />
<line x1="399.00" y1="888.90" x2="424.60" y2="888.90" stroke="#231f20" stroke-width="2.4" />
<rect x="158.50" y="941.50" width="285.50" height="11.90" fill="#049346" />
<path d="M101.20,911.70 L108.35,911.70 L108.35,899.46 L115.50,899.46 L115.50,912.25 L122.65,912.25 L122.65,877.50 L129.80,877.50 L129.80,895.57 L136.95,895.57 L136.95,890.01 L144.10,890.01 L144.10,886.90 L151.25,886.90 L151.25,898.63 L158.40,898.63 L158.40,916.70 L165.55,916.70 L165.55,871.94 L172.70,871.94 L172.70,861.38 L179.85,861.38 L179.85,898.35 L187.00,898.35 L187.00,882.23 L194.15,882.23 L194.15,808.28 L201.30,808.28 L201.30,851.37 L208.45,851.37 L208.45,840.53 L215.60,840.53 L215.60,794.94 L222.75,794.94 L222.75,856.65 L229.90,856.65 L229.90,900.02 L237.05,900.02 L237.05,852.76 L244.20,852.76 L244.20,902.80 L251.35,902.80 L251.35,842.47 L258.50,842.47 L258.50,902.24 L265.65,902.24 L265.65,849.98 L272.80,849.98 L272.80,858.88 L279.95,858.88 L279.95,887.79 L287.10,887.79 L287.10,926.15 L294.25,926.15 L294.25,894.79 L301.40,894.79 L301.40,909.47 L308.55,909.47 L308.55,850.81 L315.70,850.81 L315.70,905.58 L322.85,905.58 L322.85,840.53 L330.00,840.53 L330.00,935.88 L337.15,935.88 L337.15,838.58 L344.30,838.58 L344.30,854.98 L351.45,854.98 L351.45,867.22 L358.60,867.22 L358.60,873.89 L365.75,873.89 L365.75,838.58 L372.90,838.58 L372.90,873.00 L380.05,873.00 L380.05,859.43 L387.20,859.43 L387.20,866.10 L394.35,866.10 L394.35,909.47 L401.50,909.47 L401.50,867.22 L408.65,867.22 L408.65,871.11 L415.80,871.11 L415.80,877.78 L422.95,877.78 L422.95,860.82 L430.10,860.82 L430.10,863.49 L437.25,863.49 L437.25,878.61 L444.40,878.61 L444.40,862.21" fill="none" stroke="#231f20" stroke-width="2.2" stroke-linejoin="miter" />
<path d="M101.20,921.70 L108.35,921.70 L108.35,898.63 L115.50,898.63 L115.50,904.47 L122.65,904.47 L122.65,886.90 L129.80,886.90 L129.80,872.22 L136.95,872.22 L136.95,916.70 L144.10,916.70 L144.10,912.25 L151.25,912.25 L151.25,867.22 L158.40,867.22 L158.40,922.26 L165.55,922.26 L165.55,851.65 L172.70,851.65 L172.70,789.38 L179.85,789.38 L179.85,776.59 L187.00,776.59 L187.00,809.95 L194.15,809.95 L194.15,745.45 L201.30,745.45 L201.30,674.28 L208.45,674.28 L208.45,742.67 L215.60,742.67 L215.60,655.38 L222.75,655.38 L222.75,680.96 L229.90,680.96 L229.90,622.02 L237.05,622.02 L237.05,624.80 L244.20,624.80 L244.20,657.05 L251.35,657.05 L251.35,647.04 L258.50,647.04 L258.50,624.80 L265.65,624.80 L265.65,687.63 L272.80,687.63 L272.80,633.70 L279.95,633.70 L279.95,704.86 L287.10,704.86 L287.10,670.39 L294.25,670.39 L294.25,597.56 L301.40,597.56 L301.40,634.81 L308.55,634.81 L308.55,671.50 L315.70,671.50 L315.70,699.30 L322.85,699.30 L322.85,674.01 L330.00,674.01 L330.00,632.58 L337.15,632.58 L337.15,655.94 L344.30,655.94 L344.30,635.92 L351.45,635.92 L351.45,604.23 L358.60,604.23 L358.60,698.75 L365.75,698.75 L365.75,675.95 L372.90,675.95 L372.90,674.01 L380.05,674.01 L380.05,599.22 L387.20,599.22 L387.20,667.89 L394.35,667.89 L394.35,707.64 L401.50,707.64 L401.50,619.24 L408.65,619.24 L408.65,664.83 L415.80,664.83 L415.80,682.07 L422.95,682.07 L422.95,633.14 L430.10,633.14 L430.10,646.48 L437.25,646.48 L437.25,670.95 L444.40,670.95 L444.40,610.34" fill="none" stroke="#dc2a2c" stroke-width="2.2" stroke-linejoin="miter" />
<line x1="158.40" y1="886.50" x2="443.70" y2="866.80" stroke="#dc2a2c" stroke-width="2.2" />
<path d="M158.40,921.15 L159.40,911.58 L160.40,902.36 L161.40,893.47 L162.40,884.90 L163.40,876.63 L164.40,868.66 L165.40,860.98 L166.40,853.57 L167.40,846.43 L168.40,839.54 L169.40,832.90 L170.40,826.50 L171.40,820.32 L172.40,814.37 L173.40,808.63 L174.40,803.10 L175.40,797.77 L176.40,792.62 L177.40,787.67 L178.40,782.89 L179.40,778.28 L180.40,773.83 L181.40,769.55 L182.40,765.41 L183.40,761.43 L184.40,757.59 L185.40,753.89 L186.40,750.32 L187.40,746.87 L188.40,743.56 L189.40,740.36 L190.40,737.27 L191.40,734.30 L192.40,731.43 L193.40,728.66 L194.40,726.00 L195.40,723.42 L196.40,720.95 L197.40,718.56 L198.40,716.25 L199.40,714.03 L200.40,711.89 L201.40,709.82 L202.40,707.83 L203.40,705.91 L204.40,704.06 L205.40,702.28 L206.40,700.56 L207.40,698.90 L208.40,697.30 L209.40,695.76 L210.40,694.27 L211.40,692.84 L212.40,691.45 L213.40,690.12 L214.40,688.84 L215.40,687.60 L216.40,686.40 L217.40,685.25 L218.40,684.14 L219.40,683.07 L220.40,682.04 L221.40,681.04 L222.40,680.08 L223.40,679.16 L224.40,678.27 L225.40,677.41 L226.40,676.58 L227.40,675.78 L228.40,675.01 L229.40,674.26 L230.40,673.55 L231.40,672.85 L232.40,672.19 L233.40,671.55 L234.40,670.93 L235.40,670.33 L236.40,669.75 L237.40,669.20 L238.40,668.66 L239.40,668.15 L240.40,667.65 L241.40,667.17 L242.40,666.71 L243.40,666.26 L244.40,665.83 L245.40,665.42 L246.40,665.02 L247.40,664.63 L248.40,664.26 L249.40,663.90 L250.40,663.56 L251.40,663.23 L252.40,662.90 L253.40,662.59 L254.40,662.30 L255.40,662.01 L256.40,661.73 L257.40,661.46 L258.40,661.21 L259.40,660.96 L260.40,660.72 L261.40,660.49 L262.40,660.26 L263.40,660.05 L264.40,659.84 L265.40,659.64 L266.40,659.45 L267.40,659.26 L268.40,659.08 L269.40,658.91 L270.40,658.75 L271.40,658.58 L272.40,658.43 L273.40,658.28 L274.40,658.14 L275.40,658.00 L276.40,657.86 L277.40,657.74 L278.40,657.61 L279.40,657.49 L280.40,657.38 L281.40,657.26 L282.40,657.16 L283.40,657.05 L284.40,656.95 L285.40,656.86 L286.40,656.76 L287.40,656.68 L288.40,656.59 L289.40,656.51 L290.40,656.43 L291.40,656.35 L292.40,656.27 L293.40,656.20 L294.40,656.13 L295.40,656.07 L296.40,656.00 L297.40,655.94 L298.40,655.88 L299.40,655.82 L300.40,655.77 L301.40,655.71 L302.40,655.66 L303.40,655.61 L304.40,655.56 L305.40,655.52 L306.40,655.47 L307.40,655.43 L308.40,655.39 L309.40,655.35 L310.40,655.31 L311.40,655.27 L312.40,655.23 L313.40,655.20 L314.40,655.17 L315.40,655.13 L316.40,655.10 L317.40,655.07 L318.40,655.04 L319.40,655.02 L320.40,654.99 L321.40,654.96 L322.40,654.94 L323.40,654.92 L324.40,654.89 L325.40,654.87 L326.40,654.85 L327.40,654.83 L328.40,654.81 L329.40,654.79 L330.40,654.77 L331.40,654.75 L332.40,654.73 L333.40,654.72 L334.40,654.70 L335.40,654.69 L336.40,654.67 L337.40,654.66 L338.40,654.64 L339.40,654.63 L340.40,654.62 L341.40,654.60 L342.40,654.59 L343.40,654.58 L344.40,654.57 L345.40,654.56 L346.40,654.55 L347.40,654.54 L348.40,654.53 L349.40,654.52 L350.40,654.51 L351.40,654.50 L352.40,654.49 L353.40,654.48 L354.40,654.48 L355.40,654.47 L356.40,654.46 L357.40,654.46 L358.40,654.45 L359.40,654.44 L360.40,654.44 L361.40,654.43 L362.40,654.42 L363.40,654.42 L364.40,654.41 L365.40,654.41 L366.40,654.40 L367.40,654.40 L368.40,654.39 L369.40,654.39 L370.40,654.38 L371.40,654.38 L372.40,654.38 L373.40,654.37 L374.40,654.37 L375.40,654.36 L376.40,654.36 L377.40,654.36 L378.40,654.35 L379.40,654.35 L380.40,654.35 L381.40,654.35 L382.40,654.34 L383.40,654.34 L384.40,654.34 L385.40,654.34 L386.40,654.33 L387.40,654.33 L388.40,654.33 L389.40,654.33 L390.40,654.32 L391.40,654.32 L392.40,654.32 L393.40,654.32 L394.40,654.32 L395.40,654.31 L396.40,654.31 L397.40,654.31 L398.40,654.31 L399.40,654.31 L400.40,654.31 L401.40,654.31 L402.40,654.30 L403.40,654.30 L404.40,654.30 L405.40,654.30 L406.40,654.30 L407.40,654.30 L408.40,654.30 L409.40,654.30 L410.40,654.30 L411.40,654.29 L412.40,654.29 L413.40,654.29 L414.40,654.29 L415.40,654.29 L416.40,654.29 L417.40,654.29 L418.40,654.29 L419.40,654.29 L420.40,654.29 L421.40,654.29 L422.40,654.29 L423.40,654.28 L424.40,654.28 L425.40,654.28 L426.40,654.28 L427.40,654.28 L428.40,654.28 L429.40,654.28 L430.40,654.28 L431.40,654.28 L432.40,654.28 L433.40,654.28 L434.40,654.28 L435.40,654.28 L436.40,654.28 L437.40,654.28 L438.40,654.28 L439.40,654.28 L440.40,654.28 L441.40,654.28 L442.40,654.28 L443.40,654.28" fill="none" stroke="#231f20" stroke-width="2.4" stroke-linejoin="miter" />
<line x1="98.90" y1="595.90" x2="98.90" y2="941.90" stroke="#231f20" stroke-width="2.2" />
<line x1="97.80" y1="940.80" x2="446.50" y2="940.80" stroke="#231f20" stroke-width="2.2" />
<line x1="92.40" y1="916.70" x2="98.90" y2="916.70" stroke="#231f20" stroke-width="2.2" />
<line x1="86.90" y1="888.90" x2="98.90" y2="888.90" stroke="#231f20" stroke-width="2.2" />
<line x1="92.40" y1="861.10" x2="98.90" y2="861.10" stroke="#231f20" stroke-width="2.2" />
<line x1="92.40" y1="833.30" x2="98.90" y2="833.30" stroke="#231f20" stroke-width="2.2" />
<line x1="92.40" y1="805.50" x2="98.90" y2="805.50" stroke="#231f20" stroke-width="2.2" />
<line x1="92.40" y1="777.70" x2="98.90" y2="777.70" stroke="#231f20" stroke-width="2.2" />
<line x1="86.90" y1="749.90" x2="98.90" y2="749.90" stroke="#231f20" stroke-width="2.2" />
<line x1="92.40" y1="722.10" x2="98.90" y2="722.10" stroke="#231f20" stroke-width="2.2" />
<line x1="92.40" y1="694.30" x2="98.90" y2="694.30" stroke="#231f20" stroke-width="2.2" />
<line x1="92.40" y1="666.50" x2="98.90" y2="666.50" stroke="#231f20" stroke-width="2.2" />
<line x1="92.40" y1="638.70" x2="98.90" y2="638.70" stroke="#231f20" stroke-width="2.2" />
<line x1="86.90" y1="610.90" x2="98.90" y2="610.90" stroke="#231f20" stroke-width="2.2" />
<line x1="101.10" y1="940.80" x2="101.10" y2="947.80" stroke="#231f20" stroke-width="2.2" />
<line x1="129.80" y1="940.80" x2="129.80" y2="947.80" stroke="#231f20" stroke-width="2.2" />
<line x1="158.50" y1="940.80" x2="158.50" y2="953.30" stroke="#231f20" stroke-width="2.2" />
<line x1="187.20" y1="940.80" x2="187.20" y2="947.80" stroke="#231f20" stroke-width="2.2" />
<line x1="215.90" y1="940.80" x2="215.90" y2="947.80" stroke="#231f20" stroke-width="2.2" />
<line x1="244.60" y1="940.80" x2="244.60" y2="947.80" stroke="#231f20" stroke-width="2.2" />
<line x1="273.30" y1="940.80" x2="273.30" y2="947.80" stroke="#231f20" stroke-width="2.2" />
<line x1="302.00" y1="940.80" x2="302.00" y2="953.30" stroke="#231f20" stroke-width="2.2" />
<line x1="330.70" y1="940.80" x2="330.70" y2="947.80" stroke="#231f20" stroke-width="2.2" />
<line x1="359.40" y1="940.80" x2="359.40" y2="947.80" stroke="#231f20" stroke-width="2.2" />
<line x1="388.10" y1="940.80" x2="388.10" y2="947.80" stroke="#231f20" stroke-width="2.2" />
<line x1="416.80" y1="940.80" x2="416.80" y2="947.80" stroke="#231f20" stroke-width="2.2" />
<line x1="445.50" y1="940.80" x2="445.50" y2="953.30" stroke="#231f20" stroke-width="2.2" />
<text x="47.10" y="608.90" font-size="28.43" font-weight="normal" fill="#0a0a0a" textLength="31.62" lengthAdjust="spacingAndGlyphs">50</text>
<text x="47.03" y="748.90" font-size="28.57" font-weight="normal" fill="#0a0a0a" textLength="31.78" lengthAdjust="spacingAndGlyphs">25</text>
<text x="64.24" y="891.80" font-size="28.00" font-weight="normal" fill="#0a0a0a" textLength="15.57" lengthAdjust="spacingAndGlyphs">0</text>
<text x="149.08" y="982.20" font-size="26.86" font-weight="normal" fill="#0a0a0a" textLength="14.94" lengthAdjust="spacingAndGlyphs">0</text>
<text x="276.64" y="982.20" font-size="26.86" font-weight="normal" fill="#0a0a0a" textLength="44.81" lengthAdjust="spacingAndGlyphs">250</text>
<text x="420.17" y="982.20" font-size="26.86" font-weight="normal" fill="#0a0a0a" textLength="44.81" lengthAdjust="spacingAndGlyphs">500</text>
<text x="250.44" y="1026.50" font-size="33.56" font-weight="normal" fill="#0a0a0a" textLength="134.78" lengthAdjust="spacingAndGlyphs">Time, ms</text>
<text transform="translate(31.70,843.00) rotate(-90)" x="-0.00" y="0" font-size="33.84" font-weight="normal" fill="#0a0a0a" textLength="153.74" lengthAdjust="spacingAndGlyphs">AFR, sp/s</text>
<text x="-1.04" y="577.60" font-size="51.48" font-weight="normal" fill="#0a0a0a" textLength="26.74" lengthAdjust="spacingAndGlyphs">c</text>
<text x="237.72" y="588.80" font-size="28.00" font-weight="normal" fill="#dc2a2c" textLength="209.28" lengthAdjust="spacingAndGlyphs">τ = 47.9 ± 8.7 ms</text>
<text x="245.12" y="814.00" font-size="27.29" font-weight="normal" fill="#0a0a0a" textLength="201.80" lengthAdjust="spacingAndGlyphs">τ = 4.26 ± 0.79 s</text>
<rect x="864.30" y="593.00" width="56.80" height="348.50" fill="#fce0c8" />
<line x1="634.20" y1="889.40" x2="659.80" y2="889.40" stroke="#231f20" stroke-width="2.4" />
<line x1="684.20" y1="889.40" x2="709.80" y2="889.40" stroke="#231f20" stroke-width="2.4" />
<line x1="734.20" y1="889.40" x2="759.80" y2="889.40" stroke="#231f20" stroke-width="2.4" />
<line x1="784.20" y1="889.40" x2="809.80" y2="889.40" stroke="#231f20" stroke-width="2.4" />
<line x1="834.20" y1="889.40" x2="859.80" y2="889.40" stroke="#231f20" stroke-width="2.4" />
<line x1="884.20" y1="889.40" x2="909.80" y2="889.40" stroke="#231f20" stroke-width="2.4" />
<line x1="934.20" y1="889.40" x2="959.80" y2="889.40" stroke="#231f20" stroke-width="2.4" />
<line x1="621.30" y1="889.40" x2="633.70" y2="889.40" stroke="#231f20" stroke-width="2.2" />
<rect x="635.00" y="942.00" width="173.00" height="13.30" fill="#049346" />
<path d="M636.80,823.33 L636.80,823.33 L636.80,817.91 L642.51,817.91 L642.51,816.12 L648.23,816.12 L648.23,807.21 L653.94,807.21 L653.94,814.26 L659.66,814.26 L659.66,810.13 L665.38,810.13 L665.38,791.91 L671.09,791.91 L671.09,803.00 L676.80,803.00 L676.80,789.88 L682.52,789.88 L682.52,801.22 L688.23,801.22 L688.23,784.21 L693.95,784.21 L693.95,783.00 L699.66,783.00 L699.66,792.80 L705.38,792.80 L705.38,774.09 L711.09,774.09 L711.09,774.98 L716.81,774.98 L716.81,768.01 L722.52,768.01 L722.52,776.92 L728.24,776.92 L728.24,779.35 L733.95,779.35 L733.95,763.96 L739.67,763.96 L739.67,766.88 L745.38,766.88 L745.38,763.15 L751.10,763.15 L751.10,763.96 L756.81,763.96 L756.81,761.12 L762.53,761.12 L762.53,759.91 L768.24,759.91 L768.24,756.67 L773.96,756.67 L773.96,753.43 L779.67,753.43 L779.67,763.96 L785.39,763.96 L785.39,743.71 L791.11,743.71 L791.11,774.09 L796.82,774.09 L796.82,742.09 L802.53,742.09 L802.53,748.57 L808.25,748.57 L808.25,753.03 L813.96,753.03 L813.96,744.12 L819.68,744.12 L819.68,748.57 L825.39,748.57 L825.39,743.71 L831.11,743.71 L831.11,755.05 L836.82,755.05 L836.82,743.71 L842.54,743.71 L842.54,755.05 L848.25,755.05 L848.25,751.81 L853.97,751.81 L853.97,744.12 L859.68,744.12 L859.68,742.09 L865.40,742.09 L865.40,742.09 L871.12,742.09 L871.12,734.80 L876.83,734.80 L876.83,759.91 L882.54,759.91 L882.54,744.52 L888.26,744.52 L888.26,766.39 L893.97,766.39 L893.97,743.71 L899.69,743.71 L899.69,740.47 L905.40,740.47 L905.40,757.48 L911.12,757.48 L911.12,749.38 L916.83,749.38 L916.83,739.66 L922.55,739.66 L922.55,744.52 L928.26,744.52 L928.26,761.53 L933.98,761.53 L933.98,755.46 L939.69,755.46 L939.69,760.72 L945.41,760.72 L945.41,751.81 L951.12,751.81 L951.12,764.28 L956.84,764.28 L956.84,758.61 L962.55,758.61 L962.55,749.79 L968.27,749.79 L968.27,750.51 L973.98,750.51 L973.98,771.25 L979.70,771.25 L979.70,757.48" fill="none" stroke="#231f20" stroke-width="2.3" stroke-linejoin="miter" />
<path d="M636.80,674.05 L636.80,674.05 L636.80,695.92 L642.51,695.92 L642.51,679.72 L648.23,679.72 L648.23,687.01 L653.94,687.01 L653.94,696.73 L659.66,696.73 L659.66,705.24 L665.38,705.24 L665.38,691.47 L671.09,691.47 L671.09,689.44 L676.80,689.44 L676.80,691.06 L682.52,691.06 L682.52,703.21 L688.23,703.21 L688.23,672.43 L693.95,672.43 L693.95,678.10 L699.66,678.10 L699.66,695.11 L705.38,695.11 L705.38,672.43 L711.09,672.43 L711.09,681.34 L716.81,681.34 L716.81,697.14 L722.52,697.14 L722.52,701.59 L728.24,701.59 L728.24,680.12 L733.95,680.12 L733.95,689.44 L739.67,689.44 L739.67,686.20 L745.38,686.20 L745.38,662.71 L751.10,662.71 L751.10,692.68 L756.81,692.68 L756.81,681.34 L762.53,681.34 L762.53,693.49 L768.24,693.49 L768.24,677.29 L773.96,677.29 L773.96,667.57 L779.67,667.57 L779.67,687.01 L785.39,687.01 L785.39,654.61 L791.11,654.61 L791.11,695.92 L796.82,695.92 L796.82,673.24 L802.53,673.24 L802.53,691.47 L808.25,691.47 L808.25,669.19 L813.96,669.19 L813.96,667.57 L819.68,667.57 L819.68,690.66 L825.39,690.66 L825.39,725.08 L831.11,725.08 L831.11,753.43 L836.82,753.43 L836.82,758.61 L842.54,758.61 L842.54,764.28 L848.25,764.28 L848.25,753.92 L853.97,753.92 L853.97,753.43 L859.68,753.43 L859.68,768.01 L865.40,768.01 L865.40,765.18 L871.12,765.18 L871.12,740.47 L876.83,740.47 L876.83,756.18 L882.54,756.18 L882.54,745.33 L888.26,745.33 L888.26,744.12 L893.97,744.12 L893.97,751.81 L899.69,751.81 L899.69,761.53 L905.40,761.53 L905.40,772.87 L911.12,772.87 L911.12,758.61 L916.83,758.61 L916.83,760.72 L922.55,760.72 L922.55,765.18 L928.26,765.18 L928.26,738.04 L933.98,738.04 L933.98,755.05 L939.69,755.05 L939.69,765.18 L945.41,765.18 L945.41,757.48 L951.12,757.48 L951.12,772.06 L956.84,772.06 L956.84,768.82 L962.55,768.82 L962.55,767.52 L968.27,767.52 L968.27,790.69 L973.98,790.69 L973.98,772.06 L979.70,772.06 L979.70,782.59" fill="none" stroke="#dc2a2c" stroke-width="2.3" stroke-linejoin="miter" />
<line x1="633.70" y1="595.90" x2="633.70" y2="942.60" stroke="#231f20" stroke-width="2.2" />
<line x1="632.60" y1="941.50" x2="980.00" y2="941.50" stroke="#231f20" stroke-width="2.2" />
<line x1="627.20" y1="937.30" x2="633.70" y2="937.30" stroke="#231f20" stroke-width="2.2" />
<line x1="627.20" y1="913.00" x2="633.70" y2="913.00" stroke="#231f20" stroke-width="2.2" />
<line x1="621.70" y1="888.70" x2="633.70" y2="888.70" stroke="#231f20" stroke-width="2.2" />
<line x1="627.20" y1="864.40" x2="633.70" y2="864.40" stroke="#231f20" stroke-width="2.2" />
<line x1="627.20" y1="840.10" x2="633.70" y2="840.10" stroke="#231f20" stroke-width="2.2" />
<line x1="627.20" y1="815.80" x2="633.70" y2="815.80" stroke="#231f20" stroke-width="2.2" />
<line x1="627.20" y1="791.50" x2="633.70" y2="791.50" stroke="#231f20" stroke-width="2.2" />
<line x1="621.70" y1="767.20" x2="633.70" y2="767.20" stroke="#231f20" stroke-width="2.2" />
<line x1="627.20" y1="742.90" x2="633.70" y2="742.90" stroke="#231f20" stroke-width="2.2" />
<line x1="627.20" y1="718.60" x2="633.70" y2="718.60" stroke="#231f20" stroke-width="2.2" />
<line x1="627.20" y1="694.30" x2="633.70" y2="694.30" stroke="#231f20" stroke-width="2.2" />
<line x1="627.20" y1="670.00" x2="633.70" y2="670.00" stroke="#231f20" stroke-width="2.2" />
<line x1="621.70" y1="645.70" x2="633.70" y2="645.70" stroke="#231f20" stroke-width="2.2" />
<line x1="627.20" y1="621.40" x2="633.70" y2="621.40" stroke="#231f20" stroke-width="2.2" />
<line x1="627.20" y1="597.10" x2="633.70" y2="597.10" stroke="#231f20" stroke-width="2.2" />
<line x1="636.20" y1="941.50" x2="636.20" y2="953.50" stroke="#231f20" stroke-width="2.2" />
<line x1="670.48" y1="941.50" x2="670.48" y2="948.50" stroke="#231f20" stroke-width="2.2" />
<line x1="704.76" y1="941.50" x2="704.76" y2="948.50" stroke="#231f20" stroke-width="2.2" />
<line x1="739.04" y1="941.50" x2="739.04" y2="948.50" stroke="#231f20" stroke-width="2.2" />
<line x1="773.32" y1="941.50" x2="773.32" y2="948.50" stroke="#231f20" stroke-width="2.2" />
<line x1="807.60" y1="941.50" x2="807.60" y2="953.50" stroke="#231f20" stroke-width="2.2" />
<line x1="841.88" y1="941.50" x2="841.88" y2="948.50" stroke="#231f20" stroke-width="2.2" />
<line x1="876.16" y1="941.50" x2="876.16" y2="948.50" stroke="#231f20" stroke-width="2.2" />
<line x1="910.44" y1="941.50" x2="910.44" y2="948.50" stroke="#231f20" stroke-width="2.2" />
<line x1="944.72" y1="941.50" x2="944.72" y2="948.50" stroke="#231f20" stroke-width="2.2" />
<line x1="979.00" y1="941.50" x2="979.00" y2="953.50" stroke="#231f20" stroke-width="2.2" />
<text x="578.86" y="641.60" font-size="28.00" font-weight="normal" fill="#0a0a0a" textLength="31.15" lengthAdjust="spacingAndGlyphs">30</text>
<text x="578.71" y="774.80" font-size="28.41" font-weight="normal" fill="#0a0a0a" textLength="31.60" lengthAdjust="spacingAndGlyphs">15</text>
<text x="595.89" y="908.80" font-size="28.29" font-weight="normal" fill="#0a0a0a" textLength="15.73" lengthAdjust="spacingAndGlyphs">0</text>
<text x="626.28" y="985.10" font-size="28.29" font-weight="normal" fill="#0a0a0a" textLength="15.73" lengthAdjust="spacingAndGlyphs">2</text>
<text x="800.17" y="985.10" font-size="28.70" font-weight="normal" fill="#0a0a0a" textLength="15.96" lengthAdjust="spacingAndGlyphs">5</text>
<text x="971.58" y="985.10" font-size="28.29" font-weight="normal" fill="#0a0a0a" textLength="15.73" lengthAdjust="spacingAndGlyphs">8</text>
<text x="767.09" y="1029.20" font-size="33.29" font-weight="normal" fill="#0a0a0a" textLength="114.29" lengthAdjust="spacingAndGlyphs">Time, s</text>
<text transform="translate(548.90,843.00) rotate(-90)" x="-0.00" y="0" font-size="33.97" font-weight="normal" fill="#0a0a0a" textLength="153.74" lengthAdjust="spacingAndGlyphs">AFR, sp/s</text>
<text x="517.10" y="577.70" font-size="50.68" font-weight="normal" fill="#0a0a0a" textLength="29.17" lengthAdjust="spacingAndGlyphs">d</text>
<text transform="translate(901.40,721.40) rotate(-90)" x="-1.87" y="0" font-size="30.96" font-weight="bold" fill="#0a0a0a" textLength="119.20" lengthAdjust="spacingAndGlyphs">Pk Slow</text>
<line x1="229.10" y1="1123.20" x2="229.10" y2="1482.00" stroke="#231f20" stroke-width="2.2" stroke-dasharray="8.5,7.5" stroke-dashoffset="4.00"/>
<circle cx="344.21" cy="1148.43" r="7.4" fill="#dc2a2c"/>
<circle cx="380.73" cy="1160.45" r="7.4" fill="#dc2a2c"/>
<circle cx="387.29" cy="1162.64" r="7.4" fill="#dc2a2c"/>
<circle cx="416.15" cy="1214.47" r="7.4" fill="#dc2a2c"/>
<circle cx="341.36" cy="1250.77" r="7.4" fill="#dc2a2c"/>
<circle cx="388.38" cy="1251.20" r="7.4" fill="#dc2a2c"/>
<circle cx="342.46" cy="1264.76" r="7.4" fill="#dc2a2c"/>
<circle cx="352.95" cy="1275.26" r="7.4" fill="#dc2a2c"/>
<circle cx="424.90" cy="1306.31" r="7.4" fill="#dc2a2c"/>
<circle cx="405.87" cy="1323.37" r="7.4" fill="#dc2a2c"/>
<circle cx="371.32" cy="1332.11" r="7.4" fill="#dc2a2c"/>
<circle cx="399.31" cy="1348.43" r="7.4" fill="#dc2a2c"/>
<circle cx="306.38" cy="1351.05" r="7.4" fill="#dc2a2c"/>
<circle cx="322.78" cy="1351.71" r="7.4" fill="#dc2a2c"/>
<circle cx="332.62" cy="1363.73" r="7.4" fill="#dc2a2c"/>
<circle cx="362.14" cy="1359.36" r="7.4" fill="#dc2a2c"/>
<circle cx="375.26" cy="1364.83" r="7.4" fill="#dc2a2c"/>
<circle cx="351.20" cy="1369.20" r="7.4" fill="#dc2a2c"/>
<circle cx="342.46" cy="1372.48" r="7.4" fill="#dc2a2c"/>
<circle cx="335.90" cy="1375.76" r="7.4" fill="#dc2a2c"/>
<circle cx="377.45" cy="1371.39" r="7.4" fill="#dc2a2c"/>
<circle cx="370.89" cy="1383.42" r="7.4" fill="#dc2a2c"/>
<circle cx="392.75" cy="1379.04" r="7.4" fill="#dc2a2c"/>
<circle cx="288.88" cy="1386.70" r="7.4" fill="#dc2a2c"/>
<circle cx="300.91" cy="1395.44" r="7.4" fill="#dc2a2c"/>
<circle cx="256.08" cy="1398.29" r="7.4" fill="#dc2a2c"/>
<circle cx="377.45" cy="1402.00" r="7.4" fill="#dc2a2c"/>
<circle cx="384.01" cy="1400.91" r="7.4" fill="#dc2a2c"/>
<circle cx="284.51" cy="1404.19" r="7.4" fill="#dc2a2c"/>
<circle cx="316.22" cy="1399.82" r="7.4" fill="#dc2a2c"/>
<circle cx="324.96" cy="1404.19" r="7.4" fill="#dc2a2c"/>
<circle cx="281.23" cy="1409.66" r="7.4" fill="#dc2a2c"/>
<circle cx="289.98" cy="1411.84" r="7.4" fill="#dc2a2c"/>
<circle cx="283.42" cy="1418.40" r="7.4" fill="#dc2a2c"/>
<circle cx="380.73" cy="1419.50" r="7.4" fill="#dc2a2c"/>
<circle cx="388.38" cy="1424.96" r="7.4" fill="#dc2a2c"/>
<circle cx="401.50" cy="1422.78" r="7.4" fill="#dc2a2c"/>
<circle cx="263.73" cy="1414.03" r="7.4" fill="#dc2a2c"/>
<circle cx="329.34" cy="1414.03" r="7.4" fill="#dc2a2c"/>
<circle cx="338.08" cy="1418.40" r="7.4" fill="#dc2a2c"/>
<circle cx="355.58" cy="1422.78" r="7.4" fill="#dc2a2c"/>
<circle cx="226.56" cy="1422.78" r="7.4" fill="#dc2a2c"/>
<circle cx="248.43" cy="1422.78" r="7.4" fill="#dc2a2c"/>
<circle cx="265.92" cy="1457.77" r="7.4" fill="#dc2a2c"/>
<circle cx="346.83" cy="1453.39" r="7.4" fill="#dc2a2c"/>
<circle cx="378.54" cy="1464.33" r="7.4" fill="#dc2a2c"/>
<circle cx="406.97" cy="1459.95" r="7.4" fill="#dc2a2c"/>
<circle cx="399.31" cy="1457.77" r="7.4" fill="#dc2a2c"/>
<circle cx="373.07" cy="1433.71" r="7.4" fill="#dc2a2c"/>
<circle cx="323.87" cy="1433.71" r="7.4" fill="#dc2a2c"/>
<circle cx="259.36" cy="1440.27" r="7.4" fill="#dc2a2c"/>
<circle cx="283.42" cy="1438.08" r="7.4" fill="#dc2a2c"/>
<circle cx="307.47" cy="1442.46" r="7.4" fill="#dc2a2c"/>
<circle cx="329.34" cy="1444.64" r="7.4" fill="#dc2a2c"/>
<circle cx="362.14" cy="1442.46" r="7.4" fill="#dc2a2c"/>
<circle cx="342.46" cy="1429.34" r="7.4" fill="#dc2a2c"/>
<circle cx="274.67" cy="1444.64" r="7.4" fill="#dc2a2c"/>
<circle cx="316.22" cy="1433.71" r="7.4" fill="#dc2a2c"/>
<circle cx="191.85" cy="1389.94" r="7.4" fill="#dc2a2c"/>
<circle cx="278.93" cy="1403.86" r="7.4" fill="#dc2a2c"/>
<circle cx="241.15" cy="1421.75" r="7.4" fill="#dc2a2c"/>
<circle cx="199.40" cy="1424.73" r="7.4" fill="#dc2a2c"/>
<circle cx="174.55" cy="1421.75" r="7.4" fill="#dc2a2c"/>
<circle cx="167.59" cy="1429.70" r="7.4" fill="#dc2a2c"/>
<circle cx="140.76" cy="1431.69" r="7.4" fill="#dc2a2c"/>
<circle cx="130.82" cy="1441.63" r="7.4" fill="#dc2a2c"/>
<circle cx="155.67" cy="1435.67" r="7.4" fill="#dc2a2c"/>
<circle cx="219.28" cy="1433.68" r="7.4" fill="#dc2a2c"/>
<circle cx="211.33" cy="1453.56" r="7.4" fill="#dc2a2c"/>
<circle cx="195.43" cy="1449.58" r="7.4" fill="#dc2a2c"/>
<circle cx="147.71" cy="1441.63" r="7.4" fill="#dc2a2c"/>
<circle cx="159.64" cy="1443.62" r="7.4" fill="#dc2a2c"/>
<circle cx="179.52" cy="1439.64" r="7.4" fill="#dc2a2c"/>
<circle cx="288.87" cy="1445.61" r="7.4" fill="#dc2a2c"/>
<circle cx="239.17" cy="1439.64" r="7.4" fill="#dc2a2c"/>
<circle cx="193.50" cy="1437.94" r="7.4" fill="#dc2a2c"/>
<circle cx="226.90" cy="1430.79" r="7.4" fill="#dc2a2c"/>
<circle cx="299.92" cy="1436.07" r="7.4" fill="#dc2a2c"/>
<circle cx="334.52" cy="1382.39" r="7.4" fill="#dc2a2c"/>
<circle cx="336.90" cy="1425.33" r="7.4" fill="#dc2a2c"/>
<circle cx="308.27" cy="1453.96" r="7.4" fill="#dc2a2c"/>
<circle cx="334.52" cy="1456.34" r="7.4" fill="#dc2a2c"/>
<circle cx="304.70" cy="1412.21" r="7.4" fill="#dc2a2c"/>
<circle cx="251.02" cy="1431.29" r="7.4" fill="#dc2a2c"/>
<circle cx="346.70" cy="1380.00" r="7.4" fill="#dc2a2c"/>
<circle cx="395.61" cy="1447.99" r="7.4" fill="#dc2a2c"/>
<circle cx="332.39" cy="1430.10" r="7.4" fill="#dc2a2c"/>
<circle cx="337.16" cy="1437.26" r="7.4" fill="#dc2a2c"/>
<circle cx="363.40" cy="1419.37" r="7.4" fill="#dc2a2c"/>
<circle cx="358.63" cy="1437.26" r="7.4" fill="#dc2a2c"/>
<circle cx="365.79" cy="1451.57" r="7.4" fill="#dc2a2c"/>
<circle cx="353.86" cy="1446.80" r="7.4" fill="#dc2a2c"/>
<circle cx="344.21" cy="1179.04" r="5.95" fill="none" stroke="#231f20" stroke-width="2.2"/>
<circle cx="370.89" cy="1346.24" r="5.95" fill="none" stroke="#231f20" stroke-width="2.2"/>
<circle cx="322.34" cy="1364.83" r="5.95" fill="none" stroke="#231f20" stroke-width="2.2"/>
<circle cx="384.01" cy="1394.35" r="5.95" fill="none" stroke="#231f20" stroke-width="2.2"/>
<circle cx="237.06" cy="1404.19" r="5.95" fill="none" stroke="#231f20" stroke-width="2.2"/>
<circle cx="340.27" cy="1408.56" r="5.95" fill="none" stroke="#231f20" stroke-width="2.2"/>
<circle cx="306.38" cy="1408.56" r="5.95" fill="none" stroke="#231f20" stroke-width="2.2"/>
<circle cx="306.38" cy="1414.03" r="5.95" fill="none" stroke="#231f20" stroke-width="2.2"/>
<circle cx="264.83" cy="1417.31" r="5.95" fill="none" stroke="#231f20" stroke-width="2.2"/>
<circle cx="265.92" cy="1427.15" r="5.95" fill="none" stroke="#231f20" stroke-width="2.2"/>
<circle cx="288.88" cy="1426.06" r="5.95" fill="none" stroke="#231f20" stroke-width="2.2"/>
<circle cx="239.68" cy="1420.59" r="5.95" fill="none" stroke="#231f20" stroke-width="2.2"/>
<circle cx="233.12" cy="1424.96" r="5.95" fill="none" stroke="#231f20" stroke-width="2.2"/>
<circle cx="223.28" cy="1424.96" r="5.95" fill="none" stroke="#231f20" stroke-width="2.2"/>
<circle cx="401.50" cy="1419.50" r="5.95" fill="none" stroke="#231f20" stroke-width="2.2"/>
<circle cx="353.39" cy="1418.40" r="5.95" fill="none" stroke="#231f20" stroke-width="2.2"/>
<circle cx="361.05" cy="1419.50" r="5.95" fill="none" stroke="#231f20" stroke-width="2.2"/>
<circle cx="333.71" cy="1414.03" r="5.95" fill="none" stroke="#231f20" stroke-width="2.2"/>
<circle cx="316.22" cy="1422.78" r="5.95" fill="none" stroke="#231f20" stroke-width="2.2"/>
<circle cx="309.66" cy="1427.15" r="5.95" fill="none" stroke="#231f20" stroke-width="2.2"/>
<circle cx="327.15" cy="1429.34" r="5.95" fill="none" stroke="#231f20" stroke-width="2.2"/>
<circle cx="322.78" cy="1431.52" r="5.95" fill="none" stroke="#231f20" stroke-width="2.2"/>
<circle cx="342.46" cy="1433.71" r="5.95" fill="none" stroke="#231f20" stroke-width="2.2"/>
<circle cx="351.20" cy="1429.34" r="5.95" fill="none" stroke="#231f20" stroke-width="2.2"/>
<circle cx="362.14" cy="1433.71" r="5.95" fill="none" stroke="#231f20" stroke-width="2.2"/>
<circle cx="373.07" cy="1438.08" r="5.95" fill="none" stroke="#231f20" stroke-width="2.2"/>
<circle cx="380.73" cy="1442.46" r="5.95" fill="none" stroke="#231f20" stroke-width="2.2"/>
<circle cx="405.87" cy="1438.08" r="5.95" fill="none" stroke="#231f20" stroke-width="2.2"/>
<circle cx="399.31" cy="1440.27" r="5.95" fill="none" stroke="#231f20" stroke-width="2.2"/>
<circle cx="410.25" cy="1439.18" r="5.95" fill="none" stroke="#231f20" stroke-width="2.2"/>
<circle cx="333.71" cy="1446.83" r="5.95" fill="none" stroke="#231f20" stroke-width="2.2"/>
<circle cx="340.27" cy="1440.27" r="5.95" fill="none" stroke="#231f20" stroke-width="2.2"/>
<circle cx="355.58" cy="1444.64" r="5.95" fill="none" stroke="#231f20" stroke-width="2.2"/>
<circle cx="370.89" cy="1445.74" r="5.95" fill="none" stroke="#231f20" stroke-width="2.2"/>
<circle cx="375.26" cy="1444.64" r="5.95" fill="none" stroke="#231f20" stroke-width="2.2"/>
<circle cx="300.91" cy="1438.08" r="5.95" fill="none" stroke="#231f20" stroke-width="2.2"/>
<circle cx="298.72" cy="1455.58" r="5.95" fill="none" stroke="#231f20" stroke-width="2.2"/>
<circle cx="307.47" cy="1455.58" r="5.95" fill="none" stroke="#231f20" stroke-width="2.2"/>
<circle cx="317.31" cy="1451.20" r="5.95" fill="none" stroke="#231f20" stroke-width="2.2"/>
<circle cx="285.60" cy="1457.77" r="5.95" fill="none" stroke="#231f20" stroke-width="2.2"/>
<circle cx="276.86" cy="1449.02" r="5.95" fill="none" stroke="#231f20" stroke-width="2.2"/>
<circle cx="279.04" cy="1442.46" r="5.95" fill="none" stroke="#231f20" stroke-width="2.2"/>
<circle cx="259.36" cy="1438.08" r="5.95" fill="none" stroke="#231f20" stroke-width="2.2"/>
<circle cx="246.24" cy="1429.34" r="5.95" fill="none" stroke="#231f20" stroke-width="2.2"/>
<circle cx="245.15" cy="1446.83" r="5.95" fill="none" stroke="#231f20" stroke-width="2.2"/>
<circle cx="229.84" cy="1455.58" r="5.95" fill="none" stroke="#231f20" stroke-width="2.2"/>
<circle cx="234.21" cy="1455.58" r="5.95" fill="none" stroke="#231f20" stroke-width="2.2"/>
<circle cx="220.00" cy="1438.08" r="5.95" fill="none" stroke="#231f20" stroke-width="2.2"/>
<circle cx="226.56" cy="1442.46" r="5.95" fill="none" stroke="#231f20" stroke-width="2.2"/>
<circle cx="370.89" cy="1457.77" r="5.95" fill="none" stroke="#231f20" stroke-width="2.2"/>
<circle cx="382.91" cy="1454.49" r="5.95" fill="none" stroke="#231f20" stroke-width="2.2"/>
<circle cx="398.22" cy="1458.86" r="5.95" fill="none" stroke="#231f20" stroke-width="2.2"/>
<circle cx="333.71" cy="1458.86" r="5.95" fill="none" stroke="#231f20" stroke-width="2.2"/>
<circle cx="362.14" cy="1430.43" r="5.95" fill="none" stroke="#231f20" stroke-width="2.2"/>
<circle cx="202.39" cy="1405.84" r="5.95" fill="none" stroke="#231f20" stroke-width="2.2"/>
<circle cx="135.79" cy="1417.77" r="5.95" fill="none" stroke="#231f20" stroke-width="2.2"/>
<circle cx="129.82" cy="1430.70" r="5.95" fill="none" stroke="#231f20" stroke-width="2.2"/>
<circle cx="130.82" cy="1443.62" r="5.95" fill="none" stroke="#231f20" stroke-width="2.2"/>
<circle cx="143.74" cy="1439.64" r="5.95" fill="none" stroke="#231f20" stroke-width="2.2"/>
<circle cx="139.76" cy="1445.61" r="5.95" fill="none" stroke="#231f20" stroke-width="2.2"/>
<circle cx="149.70" cy="1445.61" r="5.95" fill="none" stroke="#231f20" stroke-width="2.2"/>
<circle cx="157.65" cy="1439.64" r="5.95" fill="none" stroke="#231f20" stroke-width="2.2"/>
<circle cx="163.62" cy="1435.67" r="5.95" fill="none" stroke="#231f20" stroke-width="2.2"/>
<circle cx="169.58" cy="1437.65" r="5.95" fill="none" stroke="#231f20" stroke-width="2.2"/>
<circle cx="175.55" cy="1441.63" r="5.95" fill="none" stroke="#231f20" stroke-width="2.2"/>
<circle cx="183.50" cy="1429.70" r="5.95" fill="none" stroke="#231f20" stroke-width="2.2"/>
<circle cx="179.52" cy="1437.65" r="5.95" fill="none" stroke="#231f20" stroke-width="2.2"/>
<circle cx="187.48" cy="1445.61" r="5.95" fill="none" stroke="#231f20" stroke-width="2.2"/>
<circle cx="193.44" cy="1439.64" r="5.95" fill="none" stroke="#231f20" stroke-width="2.2"/>
<circle cx="199.40" cy="1445.61" r="5.95" fill="none" stroke="#231f20" stroke-width="2.2"/>
<circle cx="207.36" cy="1435.67" r="5.95" fill="none" stroke="#231f20" stroke-width="2.2"/>
<circle cx="213.32" cy="1439.64" r="5.95" fill="none" stroke="#231f20" stroke-width="2.2"/>
<circle cx="219.28" cy="1435.67" r="5.95" fill="none" stroke="#231f20" stroke-width="2.2"/>
<circle cx="223.26" cy="1427.71" r="5.95" fill="none" stroke="#231f20" stroke-width="2.2"/>
<circle cx="215.31" cy="1443.62" r="5.95" fill="none" stroke="#231f20" stroke-width="2.2"/>
<circle cx="237.18" cy="1427.71" r="5.95" fill="none" stroke="#231f20" stroke-width="2.2"/>
<circle cx="251.09" cy="1437.65" r="5.95" fill="none" stroke="#231f20" stroke-width="2.2"/>
<circle cx="276.94" cy="1439.64" r="5.95" fill="none" stroke="#231f20" stroke-width="2.2"/>
<circle cx="296.82" cy="1437.65" r="5.95" fill="none" stroke="#231f20" stroke-width="2.2"/>
<circle cx="185.49" cy="1459.52" r="5.95" fill="none" stroke="#231f20" stroke-width="2.2"/>
<circle cx="179.52" cy="1455.55" r="5.95" fill="none" stroke="#231f20" stroke-width="2.2"/>
<circle cx="165.61" cy="1453.56" r="5.95" fill="none" stroke="#231f20" stroke-width="2.2"/>
<circle cx="155.67" cy="1451.57" r="5.95" fill="none" stroke="#231f20" stroke-width="2.2"/>
<circle cx="145.73" cy="1447.59" r="5.95" fill="none" stroke="#231f20" stroke-width="2.2"/>
<circle cx="171.57" cy="1447.59" r="5.95" fill="none" stroke="#231f20" stroke-width="2.2"/>
<circle cx="191.45" cy="1451.57" r="5.95" fill="none" stroke="#231f20" stroke-width="2.2"/>
<circle cx="203.38" cy="1449.58" r="5.95" fill="none" stroke="#231f20" stroke-width="2.2"/>
<circle cx="209.34" cy="1443.62" r="5.95" fill="none" stroke="#231f20" stroke-width="2.2"/>
<circle cx="296.82" cy="1453.56" r="5.95" fill="none" stroke="#231f20" stroke-width="2.2"/>
<circle cx="272.96" cy="1445.61" r="5.95" fill="none" stroke="#231f20" stroke-width="2.2"/>
<circle cx="282.90" cy="1445.61" r="5.95" fill="none" stroke="#231f20" stroke-width="2.2"/>
<circle cx="151.69" cy="1449.58" r="5.95" fill="none" stroke="#231f20" stroke-width="2.2"/>
<circle cx="159.64" cy="1447.59" r="5.95" fill="none" stroke="#231f20" stroke-width="2.2"/>
<circle cx="176.80" cy="1455.84" r="5.95" fill="none" stroke="#231f20" stroke-width="2.2"/>
<circle cx="311.85" cy="1421.75" r="5.95" fill="none" stroke="#231f20" stroke-width="2.2"/>
<circle cx="324.97" cy="1421.75" r="5.95" fill="none" stroke="#231f20" stroke-width="2.2"/>
<circle cx="222.39" cy="1434.87" r="5.95" fill="none" stroke="#231f20" stroke-width="2.2"/>
<circle cx="227.16" cy="1439.64" r="5.95" fill="none" stroke="#231f20" stroke-width="2.2"/>
<circle cx="245.05" cy="1432.49" r="5.95" fill="none" stroke="#231f20" stroke-width="2.2"/>
<circle cx="262.94" cy="1440.84" r="5.95" fill="none" stroke="#231f20" stroke-width="2.2"/>
<circle cx="276.07" cy="1437.26" r="5.95" fill="none" stroke="#231f20" stroke-width="2.2"/>
<circle cx="278.45" cy="1445.61" r="5.95" fill="none" stroke="#231f20" stroke-width="2.2"/>
<circle cx="277.26" cy="1453.96" r="5.95" fill="none" stroke="#231f20" stroke-width="2.2"/>
<circle cx="286.80" cy="1436.07" r="5.95" fill="none" stroke="#231f20" stroke-width="2.2"/>
<circle cx="298.73" cy="1440.84" r="5.95" fill="none" stroke="#231f20" stroke-width="2.2"/>
<circle cx="315.43" cy="1444.42" r="5.95" fill="none" stroke="#231f20" stroke-width="2.2"/>
<circle cx="308.27" cy="1436.07" r="5.95" fill="none" stroke="#231f20" stroke-width="2.2"/>
<circle cx="336.90" cy="1436.07" r="5.95" fill="none" stroke="#231f20" stroke-width="2.2"/>
<circle cx="223.58" cy="1446.80" r="5.95" fill="none" stroke="#231f20" stroke-width="2.2"/>
<circle cx="254.59" cy="1437.26" r="5.95" fill="none" stroke="#231f20" stroke-width="2.2"/>
<circle cx="270.10" cy="1439.64" r="5.95" fill="none" stroke="#231f20" stroke-width="2.2"/>
<circle cx="345.51" cy="1418.17" r="5.95" fill="none" stroke="#231f20" stroke-width="2.2"/>
<circle cx="337.16" cy="1442.03" r="5.95" fill="none" stroke="#231f20" stroke-width="2.2"/>
<circle cx="345.51" cy="1442.03" r="5.95" fill="none" stroke="#231f20" stroke-width="2.2"/>
<circle cx="353.86" cy="1440.84" r="5.95" fill="none" stroke="#231f20" stroke-width="2.2"/>
<circle cx="371.75" cy="1442.03" r="5.95" fill="none" stroke="#231f20" stroke-width="2.2"/>
<circle cx="405.15" cy="1442.03" r="5.95" fill="none" stroke="#231f20" stroke-width="2.2"/>
<circle cx="331.19" cy="1421.75" r="5.95" fill="none" stroke="#231f20" stroke-width="2.2"/>
<circle cx="331.19" cy="1432.49" r="5.95" fill="none" stroke="#231f20" stroke-width="2.2"/>
<circle cx="167.21" cy="1446.52" r="5.95" fill="none" stroke="#231f20" stroke-width="2.2"/>
<circle cx="179.46" cy="1450.48" r="5.95" fill="none" stroke="#231f20" stroke-width="2.2"/>
<circle cx="142.49" cy="1442.16" r="5.95" fill="none" stroke="#231f20" stroke-width="2.2"/>
<circle cx="142.26" cy="1450.76" r="5.95" fill="none" stroke="#231f20" stroke-width="2.2"/>
<circle cx="183.85" cy="1437.71" r="5.95" fill="none" stroke="#231f20" stroke-width="2.2"/>
<circle cx="203.77" cy="1453.40" r="5.95" fill="none" stroke="#231f20" stroke-width="2.2"/>
<circle cx="181.12" cy="1447.46" r="5.95" fill="none" stroke="#231f20" stroke-width="2.2"/>
<circle cx="146.87" cy="1437.26" r="5.95" fill="none" stroke="#231f20" stroke-width="2.2"/>
<circle cx="172.46" cy="1438.01" r="5.95" fill="none" stroke="#231f20" stroke-width="2.2"/>
<circle cx="149.12" cy="1441.11" r="5.95" fill="none" stroke="#231f20" stroke-width="2.2"/>
<circle cx="167.56" cy="1441.73" r="5.95" fill="none" stroke="#231f20" stroke-width="2.2"/>
<circle cx="193.97" cy="1449.03" r="5.95" fill="none" stroke="#231f20" stroke-width="2.2"/>
<circle cx="194.41" cy="1443.57" r="5.95" fill="none" stroke="#231f20" stroke-width="2.2"/>
<circle cx="136.04" cy="1440.57" r="5.95" fill="none" stroke="#231f20" stroke-width="2.2"/>
<circle cx="203.64" cy="1443.76" r="5.95" fill="none" stroke="#231f20" stroke-width="2.2"/>
<circle cx="189.72" cy="1441.59" r="5.95" fill="none" stroke="#231f20" stroke-width="2.2"/>
<circle cx="174.59" cy="1444.61" r="5.95" fill="none" stroke="#231f20" stroke-width="2.2"/>
<circle cx="149.16" cy="1449.44" r="5.95" fill="none" stroke="#231f20" stroke-width="2.2"/>
<circle cx="144.04" cy="1444.15" r="5.95" fill="none" stroke="#231f20" stroke-width="2.2"/>
<circle cx="142.92" cy="1453.82" r="5.95" fill="none" stroke="#231f20" stroke-width="2.2"/>
<circle cx="142.22" cy="1446.91" r="5.95" fill="none" stroke="#231f20" stroke-width="2.2"/>
<circle cx="152.77" cy="1447.22" r="5.95" fill="none" stroke="#231f20" stroke-width="2.2"/>
<circle cx="161.65" cy="1444.70" r="5.95" fill="none" stroke="#231f20" stroke-width="2.2"/>
<circle cx="175.65" cy="1451.73" r="5.95" fill="none" stroke="#231f20" stroke-width="2.2"/>
<circle cx="198.68" cy="1450.90" r="5.95" fill="none" stroke="#231f20" stroke-width="2.2"/>
<circle cx="211.74" cy="1435.42" r="5.95" fill="none" stroke="#231f20" stroke-width="2.2"/>
<circle cx="224.96" cy="1448.93" r="5.95" fill="none" stroke="#231f20" stroke-width="2.2"/>
<circle cx="210.31" cy="1449.10" r="5.95" fill="none" stroke="#231f20" stroke-width="2.2"/>
<circle cx="216.38" cy="1433.87" r="5.95" fill="none" stroke="#231f20" stroke-width="2.2"/>
<circle cx="206.04" cy="1449.33" r="5.95" fill="none" stroke="#231f20" stroke-width="2.2"/>
<circle cx="211.94" cy="1446.83" r="5.95" fill="none" stroke="#231f20" stroke-width="2.2"/>
<circle cx="220.10" cy="1447.34" r="5.95" fill="none" stroke="#231f20" stroke-width="2.2"/>
<circle cx="289.14" cy="1440.48" r="5.95" fill="none" stroke="#231f20" stroke-width="2.2"/>
<circle cx="313.39" cy="1439.26" r="5.95" fill="none" stroke="#231f20" stroke-width="2.2"/>
<circle cx="241.33" cy="1440.31" r="5.95" fill="none" stroke="#231f20" stroke-width="2.2"/>
<circle cx="254.10" cy="1441.90" r="5.95" fill="none" stroke="#231f20" stroke-width="2.2"/>
<circle cx="268.97" cy="1450.26" r="5.95" fill="none" stroke="#231f20" stroke-width="2.2"/>
<circle cx="318.44" cy="1446.51" r="5.95" fill="none" stroke="#231f20" stroke-width="2.2"/>
<line x1="98.90" y1="1115.20" x2="98.90" y2="1483.10" stroke="#231f20" stroke-width="2.2" />
<line x1="97.80" y1="1482.00" x2="463.70" y2="1482.00" stroke="#231f20" stroke-width="2.2" />
<line x1="85.90" y1="1451.80" x2="98.90" y2="1451.80" stroke="#231f20" stroke-width="2.2" />
<line x1="90.90" y1="1409.67" x2="98.90" y2="1409.67" stroke="#231f20" stroke-width="2.2" />
<line x1="90.90" y1="1367.55" x2="98.90" y2="1367.55" stroke="#231f20" stroke-width="2.2" />
<line x1="90.90" y1="1325.42" x2="98.90" y2="1325.42" stroke="#231f20" stroke-width="2.2" />
<line x1="85.90" y1="1283.30" x2="98.90" y2="1283.30" stroke="#231f20" stroke-width="2.2" />
<line x1="90.90" y1="1241.17" x2="98.90" y2="1241.17" stroke="#231f20" stroke-width="2.2" />
<line x1="90.90" y1="1199.05" x2="98.90" y2="1199.05" stroke="#231f20" stroke-width="2.2" />
<line x1="90.90" y1="1156.92" x2="98.90" y2="1156.92" stroke="#231f20" stroke-width="2.2" />
<line x1="85.90" y1="1114.80" x2="98.90" y2="1114.80" stroke="#231f20" stroke-width="2.2" />
<line x1="106.46" y1="1482.00" x2="106.46" y2="1490.00" stroke="#231f20" stroke-width="2.2" />
<line x1="135.64" y1="1482.00" x2="135.64" y2="1490.00" stroke="#231f20" stroke-width="2.2" />
<line x1="158.28" y1="1482.00" x2="158.28" y2="1490.00" stroke="#231f20" stroke-width="2.2" />
<line x1="176.78" y1="1482.00" x2="176.78" y2="1490.00" stroke="#231f20" stroke-width="2.2" />
<line x1="192.41" y1="1482.00" x2="192.41" y2="1490.00" stroke="#231f20" stroke-width="2.2" />
<line x1="205.96" y1="1482.00" x2="205.96" y2="1490.00" stroke="#231f20" stroke-width="2.2" />
<line x1="217.91" y1="1482.00" x2="217.91" y2="1490.00" stroke="#231f20" stroke-width="2.2" />
<line x1="228.60" y1="1482.00" x2="228.60" y2="1495.00" stroke="#231f20" stroke-width="2.2" />
<line x1="298.92" y1="1482.00" x2="298.92" y2="1490.00" stroke="#231f20" stroke-width="2.2" />
<line x1="340.06" y1="1482.00" x2="340.06" y2="1490.00" stroke="#231f20" stroke-width="2.2" />
<line x1="369.24" y1="1482.00" x2="369.24" y2="1490.00" stroke="#231f20" stroke-width="2.2" />
<line x1="391.88" y1="1482.00" x2="391.88" y2="1490.00" stroke="#231f20" stroke-width="2.2" />
<line x1="410.38" y1="1482.00" x2="410.38" y2="1490.00" stroke="#231f20" stroke-width="2.2" />
<line x1="426.01" y1="1482.00" x2="426.01" y2="1490.00" stroke="#231f20" stroke-width="2.2" />
<line x1="439.56" y1="1482.00" x2="439.56" y2="1490.00" stroke="#231f20" stroke-width="2.2" />
<line x1="451.51" y1="1482.00" x2="451.51" y2="1490.00" stroke="#231f20" stroke-width="2.2" />
<line x1="462.20" y1="1482.00" x2="462.20" y2="1495.00" stroke="#231f20" stroke-width="2.2" />
<text x="46.45" y="1126.80" font-size="28.29" font-weight="normal" fill="#0a0a0a" textLength="31.46" lengthAdjust="spacingAndGlyphs">80</text>
<text x="46.45" y="1293.80" font-size="28.29" font-weight="normal" fill="#0a0a0a" textLength="31.46" lengthAdjust="spacingAndGlyphs">40</text>
<text x="62.29" y="1461.80" font-size="28.29" font-weight="normal" fill="#0a0a0a" textLength="15.73" lengthAdjust="spacingAndGlyphs">0</text>
<text x="106.14" y="1132.80" font-size="27.14" font-weight="normal" fill="#0a0a0a" textLength="115.93" lengthAdjust="spacingAndGlyphs">p=0.0348</text>
<text x="292.55" y="1132.80" font-size="27.14" font-weight="normal" fill="#0a0a0a" textLength="115.18" lengthAdjust="spacingAndGlyphs">p&lt;0.0001</text>
<text x="205.09" y="1526.40" font-size="26.43" font-weight="normal" fill="#0a0a0a" textLength="38.63" lengthAdjust="spacingAndGlyphs">0.1</text>
<text x="250.52" y="1569.90" font-size="34.00" font-weight="normal" fill="#0a0a0a" textLength="59.80" lengthAdjust="spacingAndGlyphs">CV*</text>
<text x="-0.28" y="1098.90" font-size="51.85" font-weight="normal" fill="#0a0a0a" textLength="28.88" lengthAdjust="spacingAndGlyphs">e</text>
<text x="457.42" y="1526.40" font-size="26.81" font-weight="normal" fill="#0a0a0a" textLength="14.91" lengthAdjust="spacingAndGlyphs">1</text>
<rect x="115.80" y="1168.6" width="94.2" height="80.5" fill="none" stroke="#231f20" stroke-width="2.2"/>
<circle cx="131.00" cy="1191.7" r="5.7" fill="none" stroke="#231f20" stroke-width="2.1"/>
<circle cx="131.00" cy="1221.5" r="7.0" fill="#dc2a2c"/>
<text x="150.43" y="1200.40" font-size="25.48" font-weight="normal" fill="#0a0a0a" textLength="47.68" lengthAdjust="spacingAndGlyphs">Mid</text>
<text x="151.44" y="1230.20" font-size="25.48" font-weight="normal" fill="#0a0a0a" textLength="44.24" lengthAdjust="spacingAndGlyphs">Ipsi</text>
<text transform="translate(31.90,1412.80) rotate(-90)" x="-2.81" y="0" font-size="35.21" font-weight="normal" fill="#0a0a0a" textLength="230.37" lengthAdjust="spacingAndGlyphs">Peak fast, sp/s</text>
<line x1="762.10" y1="1114.10" x2="762.10" y2="1481.90" stroke="#231f20" stroke-width="2.2" stroke-dasharray="8.5,7.5" stroke-dashoffset="4.10"/>
<circle cx="873.27" cy="1202.52" r="7.4" fill="#dc2a2c"/>
<circle cx="910.45" cy="1259.82" r="7.4" fill="#dc2a2c"/>
<circle cx="920.29" cy="1267.47" r="7.4" fill="#dc2a2c"/>
<circle cx="899.30" cy="1279.50" r="7.4" fill="#dc2a2c"/>
<circle cx="855.56" cy="1301.36" r="7.4" fill="#dc2a2c"/>
<circle cx="906.95" cy="1303.99" r="7.4" fill="#dc2a2c"/>
<circle cx="957.90" cy="1314.49" r="7.4" fill="#dc2a2c"/>
<circle cx="913.07" cy="1318.86" r="7.4" fill="#dc2a2c"/>
<circle cx="796.08" cy="1335.26" r="7.4" fill="#dc2a2c"/>
<circle cx="788.43" cy="1341.82" r="7.4" fill="#dc2a2c"/>
<circle cx="881.36" cy="1335.26" r="7.4" fill="#dc2a2c"/>
<circle cx="910.89" cy="1330.89" r="7.4" fill="#dc2a2c"/>
<circle cx="914.17" cy="1340.73" r="7.4" fill="#dc2a2c"/>
<circle cx="932.75" cy="1339.63" r="7.4" fill="#dc2a2c"/>
<circle cx="904.33" cy="1347.29" r="7.4" fill="#dc2a2c"/>
<circle cx="939.31" cy="1356.03" r="7.4" fill="#dc2a2c"/>
<circle cx="823.42" cy="1359.31" r="7.4" fill="#dc2a2c"/>
<circle cx="833.26" cy="1360.41" r="7.4" fill="#dc2a2c"/>
<circle cx="856.22" cy="1357.13" r="7.4" fill="#dc2a2c"/>
<circle cx="864.96" cy="1368.06" r="7.4" fill="#dc2a2c"/>
<circle cx="881.36" cy="1359.31" r="7.4" fill="#dc2a2c"/>
<circle cx="895.58" cy="1354.94" r="7.4" fill="#dc2a2c"/>
<circle cx="909.79" cy="1361.50" r="7.4" fill="#dc2a2c"/>
<circle cx="924.01" cy="1364.78" r="7.4" fill="#dc2a2c"/>
<circle cx="764.37" cy="1371.34" r="7.4" fill="#dc2a2c"/>
<circle cx="814.67" cy="1372.43" r="7.4" fill="#dc2a2c"/>
<circle cx="824.51" cy="1377.90" r="7.4" fill="#dc2a2c"/>
<circle cx="838.72" cy="1376.81" r="7.4" fill="#dc2a2c"/>
<circle cx="854.03" cy="1385.55" r="7.4" fill="#dc2a2c"/>
<circle cx="875.90" cy="1387.74" r="7.4" fill="#dc2a2c"/>
<circle cx="891.20" cy="1372.43" r="7.4" fill="#dc2a2c"/>
<circle cx="934.94" cy="1383.37" r="7.4" fill="#dc2a2c"/>
<circle cx="941.50" cy="1385.55" r="7.4" fill="#dc2a2c"/>
<circle cx="917.45" cy="1389.93" r="7.4" fill="#dc2a2c"/>
<circle cx="926.19" cy="1392.11" r="7.4" fill="#dc2a2c"/>
<circle cx="819.04" cy="1393.21" r="7.4" fill="#dc2a2c"/>
<circle cx="833.26" cy="1396.49" r="7.4" fill="#dc2a2c"/>
<circle cx="770.93" cy="1393.21" r="7.4" fill="#dc2a2c"/>
<circle cx="779.68" cy="1403.05" r="7.4" fill="#dc2a2c"/>
<circle cx="792.80" cy="1418.36" r="7.4" fill="#dc2a2c"/>
<circle cx="864.96" cy="1430.38" r="7.4" fill="#dc2a2c"/>
<circle cx="904.33" cy="1424.92" r="7.4" fill="#dc2a2c"/>
<circle cx="932.75" cy="1422.73" r="7.4" fill="#dc2a2c"/>
<circle cx="949.15" cy="1403.05" r="7.4" fill="#dc2a2c"/>
<circle cx="926.19" cy="1410.70" r="7.4" fill="#dc2a2c"/>
<circle cx="882.46" cy="1413.98" r="7.4" fill="#dc2a2c"/>
<circle cx="860.59" cy="1416.17" r="7.4" fill="#dc2a2c"/>
<circle cx="843.10" cy="1417.26" r="7.4" fill="#dc2a2c"/>
<circle cx="829.98" cy="1407.42" r="7.4" fill="#dc2a2c"/>
<circle cx="799.36" cy="1411.80" r="7.4" fill="#dc2a2c"/>
<circle cx="812.48" cy="1407.42" r="7.4" fill="#dc2a2c"/>
<circle cx="851.84" cy="1400.86" r="7.4" fill="#dc2a2c"/>
<circle cx="871.52" cy="1398.67" r="7.4" fill="#dc2a2c"/>
<circle cx="720.20" cy="1352.78" r="7.4" fill="#dc2a2c"/>
<circle cx="725.56" cy="1356.36" r="7.4" fill="#dc2a2c"/>
<circle cx="721.99" cy="1376.94" r="7.4" fill="#dc2a2c"/>
<circle cx="687.99" cy="1389.46" r="7.4" fill="#dc2a2c"/>
<circle cx="668.31" cy="1423.46" r="7.4" fill="#dc2a2c"/>
<circle cx="677.26" cy="1409.14" r="7.4" fill="#dc2a2c"/>
<circle cx="704.09" cy="1405.56" r="7.4" fill="#dc2a2c"/>
<circle cx="730.93" cy="1421.67" r="7.4" fill="#dc2a2c"/>
<circle cx="698.73" cy="1432.40" r="7.4" fill="#dc2a2c"/>
<circle cx="687.99" cy="1432.40" r="7.4" fill="#dc2a2c"/>
<circle cx="720.20" cy="1428.82" r="7.4" fill="#dc2a2c"/>
<circle cx="729.14" cy="1432.40" r="7.4" fill="#dc2a2c"/>
<circle cx="752.40" cy="1432.40" r="7.4" fill="#dc2a2c"/>
<circle cx="745.25" cy="1400.20" r="7.4" fill="#dc2a2c"/>
<circle cx="704.09" cy="1416.30" r="7.4" fill="#dc2a2c"/>
<circle cx="713.04" cy="1416.30" r="7.4" fill="#dc2a2c"/>
<circle cx="736.30" cy="1414.51" r="7.4" fill="#dc2a2c"/>
<circle cx="728.73" cy="1405.79" r="7.4" fill="#dc2a2c"/>
<circle cx="716.80" cy="1433.22" r="7.4" fill="#dc2a2c"/>
<circle cx="759.75" cy="1399.82" r="7.4" fill="#dc2a2c"/>
<circle cx="875.71" cy="1357.16" r="7.4" fill="#dc2a2c"/>
<circle cx="795.79" cy="1397.72" r="7.4" fill="#dc2a2c"/>
<circle cx="822.03" cy="1406.07" r="7.4" fill="#dc2a2c"/>
<circle cx="874.52" cy="1412.03" r="7.4" fill="#dc2a2c"/>
<circle cx="811.29" cy="1431.12" r="7.4" fill="#dc2a2c"/>
<circle cx="787.44" cy="1409.64" r="7.4" fill="#dc2a2c"/>
<circle cx="843.50" cy="1404.87" r="7.4" fill="#dc2a2c"/>
<circle cx="861.40" cy="1373.86" r="7.4" fill="#dc2a2c"/>
<circle cx="893.86" cy="1363.96" r="7.4" fill="#dc2a2c"/>
<circle cx="920.10" cy="1373.50" r="7.4" fill="#dc2a2c"/>
<circle cx="930.57" cy="1314.92" r="5.95" fill="none" stroke="#231f20" stroke-width="2.2"/>
<circle cx="903.23" cy="1330.45" r="5.95" fill="none" stroke="#231f20" stroke-width="2.2"/>
<circle cx="873.71" cy="1345.54" r="5.95" fill="none" stroke="#231f20" stroke-width="2.2"/>
<circle cx="884.64" cy="1350.57" r="5.95" fill="none" stroke="#231f20" stroke-width="2.2"/>
<circle cx="846.38" cy="1352.75" r="5.95" fill="none" stroke="#231f20" stroke-width="2.2"/>
<circle cx="780.77" cy="1366.97" r="5.95" fill="none" stroke="#231f20" stroke-width="2.2"/>
<circle cx="772.03" cy="1380.09" r="5.95" fill="none" stroke="#231f20" stroke-width="2.2"/>
<circle cx="809.20" cy="1376.81" r="5.95" fill="none" stroke="#231f20" stroke-width="2.2"/>
<circle cx="838.72" cy="1371.34" r="5.95" fill="none" stroke="#231f20" stroke-width="2.2"/>
<circle cx="867.15" cy="1364.78" r="5.95" fill="none" stroke="#231f20" stroke-width="2.2"/>
<circle cx="878.08" cy="1371.34" r="5.95" fill="none" stroke="#231f20" stroke-width="2.2"/>
<circle cx="847.47" cy="1378.99" r="5.95" fill="none" stroke="#231f20" stroke-width="2.2"/>
<circle cx="840.91" cy="1383.37" r="5.95" fill="none" stroke="#231f20" stroke-width="2.2"/>
<circle cx="860.59" cy="1384.46" r="5.95" fill="none" stroke="#231f20" stroke-width="2.2"/>
<circle cx="871.52" cy="1372.43" r="5.95" fill="none" stroke="#231f20" stroke-width="2.2"/>
<circle cx="893.39" cy="1374.62" r="5.95" fill="none" stroke="#231f20" stroke-width="2.2"/>
<circle cx="904.33" cy="1374.62" r="5.95" fill="none" stroke="#231f20" stroke-width="2.2"/>
<circle cx="917.45" cy="1378.99" r="5.95" fill="none" stroke="#231f20" stroke-width="2.2"/>
<circle cx="932.75" cy="1373.53" r="5.95" fill="none" stroke="#231f20" stroke-width="2.2"/>
<circle cx="899.95" cy="1387.74" r="5.95" fill="none" stroke="#231f20" stroke-width="2.2"/>
<circle cx="882.46" cy="1389.93" r="5.95" fill="none" stroke="#231f20" stroke-width="2.2"/>
<circle cx="875.90" cy="1383.37" r="5.95" fill="none" stroke="#231f20" stroke-width="2.2"/>
<circle cx="891.20" cy="1383.37" r="5.95" fill="none" stroke="#231f20" stroke-width="2.2"/>
<circle cx="854.03" cy="1392.11" r="5.95" fill="none" stroke="#231f20" stroke-width="2.2"/>
<circle cx="834.35" cy="1396.49" r="5.95" fill="none" stroke="#231f20" stroke-width="2.2"/>
<circle cx="794.99" cy="1396.49" r="5.95" fill="none" stroke="#231f20" stroke-width="2.2"/>
<circle cx="801.55" cy="1398.67" r="5.95" fill="none" stroke="#231f20" stroke-width="2.2"/>
<circle cx="819.04" cy="1401.95" r="5.95" fill="none" stroke="#231f20" stroke-width="2.2"/>
<circle cx="814.67" cy="1405.24" r="5.95" fill="none" stroke="#231f20" stroke-width="2.2"/>
<circle cx="779.68" cy="1403.05" r="5.95" fill="none" stroke="#231f20" stroke-width="2.2"/>
<circle cx="768.75" cy="1393.21" r="5.95" fill="none" stroke="#231f20" stroke-width="2.2"/>
<circle cx="867.15" cy="1399.77" r="5.95" fill="none" stroke="#231f20" stroke-width="2.2"/>
<circle cx="891.20" cy="1400.86" r="5.95" fill="none" stroke="#231f20" stroke-width="2.2"/>
<circle cx="913.07" cy="1403.05" r="5.95" fill="none" stroke="#231f20" stroke-width="2.2"/>
<circle cx="934.94" cy="1397.58" r="5.95" fill="none" stroke="#231f20" stroke-width="2.2"/>
<circle cx="941.50" cy="1410.70" r="5.95" fill="none" stroke="#231f20" stroke-width="2.2"/>
<circle cx="939.31" cy="1419.45" r="5.95" fill="none" stroke="#231f20" stroke-width="2.2"/>
<circle cx="915.26" cy="1415.08" r="5.95" fill="none" stroke="#231f20" stroke-width="2.2"/>
<circle cx="906.51" cy="1420.54" r="5.95" fill="none" stroke="#231f20" stroke-width="2.2"/>
<circle cx="889.02" cy="1424.92" r="5.95" fill="none" stroke="#231f20" stroke-width="2.2"/>
<circle cx="840.91" cy="1429.29" r="5.95" fill="none" stroke="#231f20" stroke-width="2.2"/>
<circle cx="831.07" cy="1420.54" r="5.95" fill="none" stroke="#231f20" stroke-width="2.2"/>
<circle cx="810.30" cy="1422.73" r="5.95" fill="none" stroke="#231f20" stroke-width="2.2"/>
<circle cx="812.48" cy="1430.38" r="5.95" fill="none" stroke="#231f20" stroke-width="2.2"/>
<circle cx="781.87" cy="1419.45" r="5.95" fill="none" stroke="#231f20" stroke-width="2.2"/>
<circle cx="764.37" cy="1422.73" r="5.95" fill="none" stroke="#231f20" stroke-width="2.2"/>
<circle cx="856.22" cy="1406.33" r="5.95" fill="none" stroke="#231f20" stroke-width="2.2"/>
<circle cx="878.08" cy="1409.61" r="5.95" fill="none" stroke="#231f20" stroke-width="2.2"/>
<circle cx="799.36" cy="1411.80" r="5.95" fill="none" stroke="#231f20" stroke-width="2.2"/>
<circle cx="847.47" cy="1407.42" r="5.95" fill="none" stroke="#231f20" stroke-width="2.2"/>
<circle cx="862.78" cy="1409.61" r="5.95" fill="none" stroke="#231f20" stroke-width="2.2"/>
<circle cx="681.73" cy="1378.73" r="5.95" fill="none" stroke="#231f20" stroke-width="2.2"/>
<circle cx="714.83" cy="1388.57" r="5.95" fill="none" stroke="#231f20" stroke-width="2.2"/>
<circle cx="752.40" cy="1376.04" r="5.95" fill="none" stroke="#231f20" stroke-width="2.2"/>
<circle cx="742.56" cy="1386.78" r="5.95" fill="none" stroke="#231f20" stroke-width="2.2"/>
<circle cx="745.25" cy="1392.15" r="5.95" fill="none" stroke="#231f20" stroke-width="2.2"/>
<circle cx="752.40" cy="1389.46" r="5.95" fill="none" stroke="#231f20" stroke-width="2.2"/>
<circle cx="757.77" cy="1396.62" r="5.95" fill="none" stroke="#231f20" stroke-width="2.2"/>
<circle cx="662.94" cy="1407.35" r="5.95" fill="none" stroke="#231f20" stroke-width="2.2"/>
<circle cx="668.31" cy="1399.30" r="5.95" fill="none" stroke="#231f20" stroke-width="2.2"/>
<circle cx="679.94" cy="1401.99" r="5.95" fill="none" stroke="#231f20" stroke-width="2.2"/>
<circle cx="675.47" cy="1409.14" r="5.95" fill="none" stroke="#231f20" stroke-width="2.2"/>
<circle cx="695.15" cy="1398.41" r="5.95" fill="none" stroke="#231f20" stroke-width="2.2"/>
<circle cx="693.36" cy="1407.35" r="5.95" fill="none" stroke="#231f20" stroke-width="2.2"/>
<circle cx="698.73" cy="1410.93" r="5.95" fill="none" stroke="#231f20" stroke-width="2.2"/>
<circle cx="714.83" cy="1403.78" r="5.95" fill="none" stroke="#231f20" stroke-width="2.2"/>
<circle cx="727.35" cy="1403.78" r="5.95" fill="none" stroke="#231f20" stroke-width="2.2"/>
<circle cx="736.30" cy="1410.93" r="5.95" fill="none" stroke="#231f20" stroke-width="2.2"/>
<circle cx="745.25" cy="1407.35" r="5.95" fill="none" stroke="#231f20" stroke-width="2.2"/>
<circle cx="663.84" cy="1430.61" r="5.95" fill="none" stroke="#231f20" stroke-width="2.2"/>
<circle cx="671.89" cy="1427.93" r="5.95" fill="none" stroke="#231f20" stroke-width="2.2"/>
<circle cx="677.26" cy="1432.40" r="5.95" fill="none" stroke="#231f20" stroke-width="2.2"/>
<circle cx="686.20" cy="1423.46" r="5.95" fill="none" stroke="#231f20" stroke-width="2.2"/>
<circle cx="691.57" cy="1430.61" r="5.95" fill="none" stroke="#231f20" stroke-width="2.2"/>
<circle cx="698.73" cy="1434.19" r="5.95" fill="none" stroke="#231f20" stroke-width="2.2"/>
<circle cx="718.41" cy="1435.98" r="5.95" fill="none" stroke="#231f20" stroke-width="2.2"/>
<circle cx="727.35" cy="1425.25" r="5.95" fill="none" stroke="#231f20" stroke-width="2.2"/>
<circle cx="738.09" cy="1425.25" r="5.95" fill="none" stroke="#231f20" stroke-width="2.2"/>
<circle cx="747.04" cy="1421.67" r="5.95" fill="none" stroke="#231f20" stroke-width="2.2"/>
<circle cx="759.56" cy="1414.51" r="5.95" fill="none" stroke="#231f20" stroke-width="2.2"/>
<circle cx="786.40" cy="1416.30" r="5.95" fill="none" stroke="#231f20" stroke-width="2.2"/>
<circle cx="791.77" cy="1407.35" r="5.95" fill="none" stroke="#231f20" stroke-width="2.2"/>
<circle cx="713.04" cy="1414.51" r="5.95" fill="none" stroke="#231f20" stroke-width="2.2"/>
<circle cx="705.88" cy="1421.67" r="5.95" fill="none" stroke="#231f20" stroke-width="2.2"/>
<circle cx="720.20" cy="1418.09" r="5.95" fill="none" stroke="#231f20" stroke-width="2.2"/>
<circle cx="695.33" cy="1412.94" r="5.95" fill="none" stroke="#231f20" stroke-width="2.2"/>
<circle cx="749.01" cy="1408.17" r="5.95" fill="none" stroke="#231f20" stroke-width="2.2"/>
<circle cx="677.44" cy="1435.61" r="5.95" fill="none" stroke="#231f20" stroke-width="2.2"/>
<circle cx="698.91" cy="1427.26" r="5.95" fill="none" stroke="#231f20" stroke-width="2.2"/>
<circle cx="710.84" cy="1417.72" r="5.95" fill="none" stroke="#231f20" stroke-width="2.2"/>
<circle cx="716.80" cy="1411.75" r="5.95" fill="none" stroke="#231f20" stroke-width="2.2"/>
<circle cx="727.54" cy="1412.94" r="5.95" fill="none" stroke="#231f20" stroke-width="2.2"/>
<circle cx="733.50" cy="1415.33" r="5.95" fill="none" stroke="#231f20" stroke-width="2.2"/>
<circle cx="738.27" cy="1420.10" r="5.95" fill="none" stroke="#231f20" stroke-width="2.2"/>
<circle cx="740.66" cy="1427.26" r="5.95" fill="none" stroke="#231f20" stroke-width="2.2"/>
<circle cx="709.64" cy="1424.87" r="5.95" fill="none" stroke="#231f20" stroke-width="2.2"/>
<circle cx="702.49" cy="1432.03" r="5.95" fill="none" stroke="#231f20" stroke-width="2.2"/>
<circle cx="723.96" cy="1424.87" r="5.95" fill="none" stroke="#231f20" stroke-width="2.2"/>
<circle cx="732.31" cy="1427.26" r="5.95" fill="none" stroke="#231f20" stroke-width="2.2"/>
<circle cx="768.10" cy="1409.37" r="5.95" fill="none" stroke="#231f20" stroke-width="2.2"/>
<circle cx="757.36" cy="1393.86" r="5.95" fill="none" stroke="#231f20" stroke-width="2.2"/>
<circle cx="768.10" cy="1380.74" r="5.95" fill="none" stroke="#231f20" stroke-width="2.2"/>
<circle cx="867.36" cy="1373.86" r="5.95" fill="none" stroke="#231f20" stroke-width="2.2"/>
<circle cx="874.52" cy="1379.82" r="5.95" fill="none" stroke="#231f20" stroke-width="2.2"/>
<circle cx="873.32" cy="1388.17" r="5.95" fill="none" stroke="#231f20" stroke-width="2.2"/>
<circle cx="798.17" cy="1397.72" r="5.95" fill="none" stroke="#231f20" stroke-width="2.2"/>
<circle cx="795.79" cy="1406.07" r="5.95" fill="none" stroke="#231f20" stroke-width="2.2"/>
<circle cx="811.29" cy="1413.22" r="5.95" fill="none" stroke="#231f20" stroke-width="2.2"/>
<circle cx="822.03" cy="1402.49" r="5.95" fill="none" stroke="#231f20" stroke-width="2.2"/>
<circle cx="832.77" cy="1400.10" r="5.95" fill="none" stroke="#231f20" stroke-width="2.2"/>
<circle cx="855.43" cy="1403.68" r="5.95" fill="none" stroke="#231f20" stroke-width="2.2"/>
<circle cx="873.32" cy="1406.07" r="5.95" fill="none" stroke="#231f20" stroke-width="2.2"/>
<circle cx="868.55" cy="1415.61" r="5.95" fill="none" stroke="#231f20" stroke-width="2.2"/>
<circle cx="875.71" cy="1419.19" r="5.95" fill="none" stroke="#231f20" stroke-width="2.2"/>
<circle cx="850.66" cy="1407.26" r="5.95" fill="none" stroke="#231f20" stroke-width="2.2"/>
<circle cx="843.50" cy="1413.22" r="5.95" fill="none" stroke="#231f20" stroke-width="2.2"/>
<circle cx="767.16" cy="1404.87" r="5.95" fill="none" stroke="#231f20" stroke-width="2.2"/>
<circle cx="763.58" cy="1412.03" r="5.95" fill="none" stroke="#231f20" stroke-width="2.2"/>
<circle cx="767.16" cy="1423.96" r="5.95" fill="none" stroke="#231f20" stroke-width="2.2"/>
<circle cx="779.09" cy="1419.19" r="5.95" fill="none" stroke="#231f20" stroke-width="2.2"/>
<circle cx="776.70" cy="1420.38" r="5.95" fill="none" stroke="#231f20" stroke-width="2.2"/>
<circle cx="760.00" cy="1419.19" r="5.95" fill="none" stroke="#231f20" stroke-width="2.2"/>
<circle cx="787.44" cy="1402.49" r="5.95" fill="none" stroke="#231f20" stroke-width="2.2"/>
<circle cx="889.09" cy="1380.66" r="5.95" fill="none" stroke="#231f20" stroke-width="2.2"/>
<circle cx="903.40" cy="1390.20" r="5.95" fill="none" stroke="#231f20" stroke-width="2.2"/>
<circle cx="898.63" cy="1383.05" r="5.95" fill="none" stroke="#231f20" stroke-width="2.2"/>
<circle cx="877.16" cy="1387.82" r="5.95" fill="none" stroke="#231f20" stroke-width="2.2"/>
<circle cx="883.12" cy="1392.59" r="5.95" fill="none" stroke="#231f20" stroke-width="2.2"/>
<circle cx="881.93" cy="1399.75" r="5.95" fill="none" stroke="#231f20" stroke-width="2.2"/>
<circle cx="872.39" cy="1409.29" r="5.95" fill="none" stroke="#231f20" stroke-width="2.2"/>
<circle cx="870.00" cy="1397.36" r="5.95" fill="none" stroke="#231f20" stroke-width="2.2"/>
<circle cx="731.10" cy="1423.69" r="5.95" fill="none" stroke="#231f20" stroke-width="2.2"/>
<circle cx="706.32" cy="1412.70" r="5.95" fill="none" stroke="#231f20" stroke-width="2.2"/>
<circle cx="731.54" cy="1431.26" r="5.95" fill="none" stroke="#231f20" stroke-width="2.2"/>
<circle cx="700.96" cy="1424.72" r="5.95" fill="none" stroke="#231f20" stroke-width="2.2"/>
<circle cx="721.70" cy="1426.61" r="5.95" fill="none" stroke="#231f20" stroke-width="2.2"/>
<circle cx="714.35" cy="1431.99" r="5.95" fill="none" stroke="#231f20" stroke-width="2.2"/>
<circle cx="703.39" cy="1422.92" r="5.95" fill="none" stroke="#231f20" stroke-width="2.2"/>
<circle cx="735.70" cy="1430.30" r="5.95" fill="none" stroke="#231f20" stroke-width="2.2"/>
<circle cx="715.83" cy="1425.70" r="5.95" fill="none" stroke="#231f20" stroke-width="2.2"/>
<circle cx="718.77" cy="1427.81" r="5.95" fill="none" stroke="#231f20" stroke-width="2.2"/>
<circle cx="728.12" cy="1419.65" r="5.95" fill="none" stroke="#231f20" stroke-width="2.2"/>
<circle cx="744.70" cy="1429.60" r="5.95" fill="none" stroke="#231f20" stroke-width="2.2"/>
<circle cx="732.77" cy="1419.77" r="5.95" fill="none" stroke="#231f20" stroke-width="2.2"/>
<circle cx="703.77" cy="1427.00" r="5.95" fill="none" stroke="#231f20" stroke-width="2.2"/>
<circle cx="727.65" cy="1430.41" r="5.95" fill="none" stroke="#231f20" stroke-width="2.2"/>
<circle cx="711.51" cy="1412.23" r="5.95" fill="none" stroke="#231f20" stroke-width="2.2"/>
<circle cx="709.12" cy="1415.39" r="5.95" fill="none" stroke="#231f20" stroke-width="2.2"/>
<line x1="630.80" y1="1115.20" x2="630.80" y2="1483.00" stroke="#231f20" stroke-width="2.2" />
<line x1="629.70" y1="1481.90" x2="997.10" y2="1481.90" stroke="#231f20" stroke-width="2.2" />
<line x1="617.80" y1="1451.80" x2="630.80" y2="1451.80" stroke="#231f20" stroke-width="2.2" />
<line x1="622.80" y1="1409.67" x2="630.80" y2="1409.67" stroke="#231f20" stroke-width="2.2" />
<line x1="622.80" y1="1367.55" x2="630.80" y2="1367.55" stroke="#231f20" stroke-width="2.2" />
<line x1="622.80" y1="1325.42" x2="630.80" y2="1325.42" stroke="#231f20" stroke-width="2.2" />
<line x1="617.80" y1="1283.30" x2="630.80" y2="1283.30" stroke="#231f20" stroke-width="2.2" />
<line x1="622.80" y1="1241.17" x2="630.80" y2="1241.17" stroke="#231f20" stroke-width="2.2" />
<line x1="622.80" y1="1199.05" x2="630.80" y2="1199.05" stroke="#231f20" stroke-width="2.2" />
<line x1="622.80" y1="1156.92" x2="630.80" y2="1156.92" stroke="#231f20" stroke-width="2.2" />
<line x1="617.80" y1="1114.80" x2="630.80" y2="1114.80" stroke="#231f20" stroke-width="2.2" />
<line x1="640.16" y1="1481.90" x2="640.16" y2="1489.90" stroke="#231f20" stroke-width="2.2" />
<line x1="669.32" y1="1481.90" x2="669.32" y2="1489.90" stroke="#231f20" stroke-width="2.2" />
<line x1="691.94" y1="1481.90" x2="691.94" y2="1489.90" stroke="#231f20" stroke-width="2.2" />
<line x1="710.42" y1="1481.90" x2="710.42" y2="1489.90" stroke="#231f20" stroke-width="2.2" />
<line x1="726.05" y1="1481.90" x2="726.05" y2="1489.90" stroke="#231f20" stroke-width="2.2" />
<line x1="739.58" y1="1481.90" x2="739.58" y2="1489.90" stroke="#231f20" stroke-width="2.2" />
<line x1="751.52" y1="1481.90" x2="751.52" y2="1489.90" stroke="#231f20" stroke-width="2.2" />
<line x1="762.20" y1="1481.90" x2="762.20" y2="1494.90" stroke="#231f20" stroke-width="2.2" />
<line x1="832.46" y1="1481.90" x2="832.46" y2="1489.90" stroke="#231f20" stroke-width="2.2" />
<line x1="873.56" y1="1481.90" x2="873.56" y2="1489.90" stroke="#231f20" stroke-width="2.2" />
<line x1="902.72" y1="1481.90" x2="902.72" y2="1489.90" stroke="#231f20" stroke-width="2.2" />
<line x1="925.34" y1="1481.90" x2="925.34" y2="1489.90" stroke="#231f20" stroke-width="2.2" />
<line x1="943.82" y1="1481.90" x2="943.82" y2="1489.90" stroke="#231f20" stroke-width="2.2" />
<line x1="959.45" y1="1481.90" x2="959.45" y2="1489.90" stroke="#231f20" stroke-width="2.2" />
<line x1="972.98" y1="1481.90" x2="972.98" y2="1489.90" stroke="#231f20" stroke-width="2.2" />
<line x1="984.92" y1="1481.90" x2="984.92" y2="1489.90" stroke="#231f20" stroke-width="2.2" />
<line x1="995.60" y1="1481.90" x2="995.60" y2="1494.90" stroke="#231f20" stroke-width="2.2" />
<text x="578.75" y="1126.80" font-size="28.29" font-weight="normal" fill="#0a0a0a" textLength="31.46" lengthAdjust="spacingAndGlyphs">80</text>
<text x="578.75" y="1293.80" font-size="28.29" font-weight="normal" fill="#0a0a0a" textLength="31.46" lengthAdjust="spacingAndGlyphs">40</text>
<text x="594.59" y="1461.80" font-size="28.29" font-weight="normal" fill="#0a0a0a" textLength="15.73" lengthAdjust="spacingAndGlyphs">0</text>
<text x="635.53" y="1132.80" font-size="27.14" font-weight="normal" fill="#0a0a0a" textLength="116.95" lengthAdjust="spacingAndGlyphs">p=0.4100</text>
<text x="825.23" y="1132.80" font-size="27.14" font-weight="normal" fill="#0a0a0a" textLength="117.13" lengthAdjust="spacingAndGlyphs">p=0.0002</text>
<text x="738.24" y="1527.00" font-size="27.71" font-weight="normal" fill="#0a0a0a" textLength="36.82" lengthAdjust="spacingAndGlyphs">0.1</text>
<text x="776.68" y="1569.60" font-size="34.57" font-weight="normal" fill="#0a0a0a" textLength="57.62" lengthAdjust="spacingAndGlyphs">CV*</text>
<text x="517.52" y="1097.70" font-size="49.04" font-weight="normal" fill="#0a0a0a" textLength="13.28" lengthAdjust="spacingAndGlyphs">f</text>
<text x="990.45" y="1527.00" font-size="28.12" font-weight="normal" fill="#0a0a0a" textLength="15.64" lengthAdjust="spacingAndGlyphs">1</text>
<rect x="649.60" y="1168.6" width="94.2" height="80.5" fill="none" stroke="#231f20" stroke-width="2.2"/>
<circle cx="664.80" cy="1191.7" r="5.7" fill="none" stroke="#231f20" stroke-width="2.1"/>
<circle cx="664.80" cy="1221.5" r="7.0" fill="#dc2a2c"/>
<text x="684.23" y="1200.40" font-size="25.48" font-weight="normal" fill="#0a0a0a" textLength="47.68" lengthAdjust="spacingAndGlyphs">Mid</text>
<text x="685.24" y="1230.20" font-size="25.48" font-weight="normal" fill="#0a0a0a" textLength="44.24" lengthAdjust="spacingAndGlyphs">Ipsi</text>
<text transform="translate(549.30,1412.80) rotate(-90)" x="-2.83" y="0" font-size="34.79" font-weight="normal" fill="#0a0a0a" textLength="243.46" lengthAdjust="spacingAndGlyphs">Peak slow, sp/s</text>
</svg></body></html>
